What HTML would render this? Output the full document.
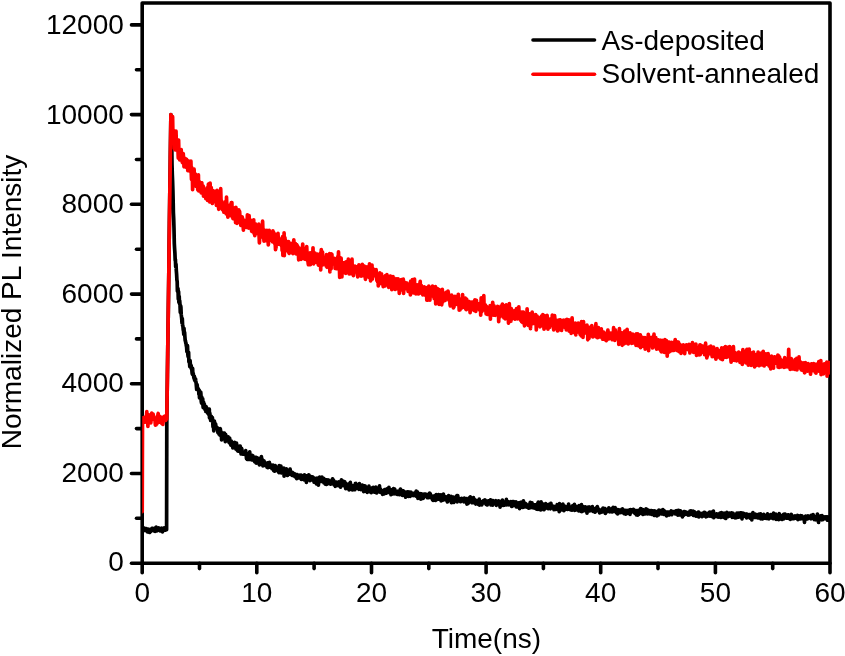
<!DOCTYPE html>
<html lang="en"><head><meta charset="utf-8"><title>Normalized PL Intensity vs Time</title>
<style>
html,body{margin:0;padding:0;background:#fff;}
body{width:845px;height:656px;overflow:hidden;}
svg{display:block;}
text{font-family:"Liberation Sans",Arial,Helvetica,sans-serif;font-size:28px;fill:#000;}
</style></head><body>
<svg width="845" height="656" viewBox="0 0 845 656">
<rect width="845" height="656" fill="#fff"/>
<defs><clipPath id="plot"><rect x="142.2" y="0" width="687.8" height="563.2"/></clipPath></defs>

<g stroke="#000" stroke-width="3.6" fill="none" stroke-linecap="round">
<rect x="142.2" y="3.0" width="687.8" height="560.2" stroke-linejoin="round"/>
<line x1="142.2" y1="563.2" x2="131.5" y2="563.2"/>
<line x1="142.2" y1="518.3" x2="136.5" y2="518.3"/>
<line x1="142.2" y1="473.5" x2="131.5" y2="473.5"/>
<line x1="142.2" y1="428.6" x2="136.5" y2="428.6"/>
<line x1="142.2" y1="383.8" x2="131.5" y2="383.8"/>
<line x1="142.2" y1="338.9" x2="136.5" y2="338.9"/>
<line x1="142.2" y1="294.1" x2="131.5" y2="294.1"/>
<line x1="142.2" y1="249.2" x2="136.5" y2="249.2"/>
<line x1="142.2" y1="204.3" x2="131.5" y2="204.3"/>
<line x1="142.2" y1="159.5" x2="136.5" y2="159.5"/>
<line x1="142.2" y1="114.6" x2="131.5" y2="114.6"/>
<line x1="142.2" y1="69.8" x2="136.5" y2="69.8"/>
<line x1="142.2" y1="24.9" x2="131.5" y2="24.9"/>
<line x1="142.2" y1="563.2" x2="142.2" y2="572.8"/>
<line x1="199.5" y1="563.2" x2="199.5" y2="568.6"/>
<line x1="256.8" y1="563.2" x2="256.8" y2="572.8"/>
<line x1="314.1" y1="563.2" x2="314.1" y2="568.6"/>
<line x1="371.5" y1="563.2" x2="371.5" y2="572.8"/>
<line x1="428.8" y1="563.2" x2="428.8" y2="568.6"/>
<line x1="486.1" y1="563.2" x2="486.1" y2="572.8"/>
<line x1="543.4" y1="563.2" x2="543.4" y2="568.6"/>
<line x1="600.7" y1="563.2" x2="600.7" y2="572.8"/>
<line x1="658.0" y1="563.2" x2="658.0" y2="568.6"/>
<line x1="715.4" y1="563.2" x2="715.4" y2="572.8"/>
<line x1="772.7" y1="563.2" x2="772.7" y2="568.6"/>
<line x1="830.0" y1="563.2" x2="830.0" y2="572.8"/>
</g>
<g fill="none" stroke-width="3.7" stroke-linejoin="round" stroke-linecap="round" clip-path="url(#plot)">
<path stroke="#000" d="M142.2 529.6 L142.5 529.2 L142.8 529.9 L143.1 530.6 L143.3 530.1 L143.6 530.7 L143.9 529.5 L144.2 528.0 L144.5 530.1 L144.8 530.3 L145.1 529.0 L145.4 529.1 L145.6 529.4 L145.9 530.6 L146.2 529.6 L146.5 528.7 L146.8 531.1 L147.1 530.1 L147.4 531.8 L147.6 531.1 L147.9 531.7 L148.2 529.8 L148.5 531.0 L148.8 529.2 L149.1 529.4 L149.4 529.8 L149.7 532.5 L149.9 530.2 L150.2 529.6 L150.5 529.4 L150.8 531.3 L151.1 530.1 L151.4 530.7 L151.7 530.5 L151.9 528.3 L152.2 530.5 L152.5 529.6 L152.8 528.5 L153.1 530.2 L153.4 529.7 L153.7 529.4 L153.9 529.5 L154.2 531.0 L154.5 529.5 L154.8 528.0 L155.1 531.4 L155.4 528.6 L155.7 529.4 L156.0 530.3 L156.2 527.2 L156.5 528.7 L156.8 531.0 L157.1 529.5 L157.4 528.9 L157.7 529.8 L158.0 528.8 L158.2 529.6 L158.5 528.8 L158.8 527.9 L159.1 530.3 L159.4 529.3 L159.7 530.1 L160.0 529.4 L160.3 530.9 L160.5 530.2 L160.8 529.8 L161.1 528.5 L161.4 528.2 L161.7 531.1 L162.0 530.5 L162.3 528.8 L162.5 531.9 L162.8 530.1 L163.1 529.7 L163.4 528.1 L163.7 528.8 L164.0 529.9 L164.3 530.0 L164.6 529.8 L164.8 527.8 L165.1 530.1 L165.4 529.9 L165.7 529.1 L166.0 529.7 L166.3 529.8 L166.6 529.6 L166.8 419.0 L167.1 397.2 L167.4 375.5 L167.7 353.8 L168.0 332.0 L168.3 310.3 L168.6 288.5 L168.9 266.8 L169.1 245.1 L169.4 223.3 L169.7 201.6 L170.0 179.8 L170.3 158.1 L170.6 136.4 L170.9 114.6 L171.1 126.7 L171.4 138.4 L171.7 140.6 L172.0 164.2 L172.3 174.2 L172.6 181.4 L172.9 190.5 L173.2 203.1 L173.4 212.8 L173.7 218.9 L174.0 228.8 L174.3 243.3 L174.6 248.6 L174.9 252.9 L175.2 260.4 L175.4 259.4 L175.7 266.9 L176.0 264.1 L176.3 270.3 L176.6 274.1 L176.9 279.9 L177.2 281.7 L177.4 291.3 L177.7 291.3 L178.0 288.6 L178.3 299.2 L178.6 291.6 L178.9 302.4 L179.2 296.4 L179.5 303.8 L179.7 300.7 L180.0 305.0 L180.3 312.5 L180.6 305.7 L180.9 307.2 L181.2 314.2 L181.5 316.9 L181.7 318.6 L182.0 323.2 L182.3 318.7 L182.6 325.7 L182.9 325.8 L183.2 329.7 L183.5 330.8 L183.8 334.4 L184.0 328.3 L184.3 334.2 L184.6 332.4 L184.9 336.9 L185.2 340.5 L185.5 341.0 L185.8 343.2 L186.0 343.1 L186.3 345.7 L186.6 347.0 L186.9 351.7 L187.2 351.5 L187.5 345.7 L187.8 354.0 L188.1 356.6 L188.3 354.0 L188.6 352.3 L188.9 362.0 L189.2 359.8 L189.5 362.3 L189.8 366.6 L190.1 360.5 L190.3 363.8 L190.6 364.6 L190.9 367.9 L191.2 365.6 L191.5 369.4 L191.8 369.4 L192.1 373.1 L192.4 374.4 L192.6 368.3 L192.9 374.5 L193.2 373.3 L193.5 375.2 L193.8 377.3 L194.1 378.5 L194.4 376.4 L194.6 379.9 L194.9 380.5 L195.2 381.0 L195.5 378.8 L195.8 381.1 L196.1 382.9 L196.4 386.4 L196.7 389.5 L196.9 384.3 L197.2 385.2 L197.5 389.0 L197.8 388.2 L198.1 388.5 L198.4 389.3 L198.7 389.9 L198.9 394.5 L199.2 390.0 L199.5 397.9 L199.8 392.9 L200.1 394.5 L200.4 394.1 L200.7 392.1 L200.9 393.7 L201.2 401.1 L201.5 403.1 L201.8 397.2 L202.1 402.5 L202.4 400.5 L202.7 398.9 L203.0 405.8 L203.2 407.6 L203.5 402.1 L203.8 403.2 L204.1 404.5 L204.4 404.3 L204.7 407.2 L205.0 409.4 L205.2 406.5 L205.5 409.1 L205.8 411.4 L206.1 406.5 L206.4 408.5 L206.7 407.9 L207.0 411.9 L207.3 411.6 L207.5 413.0 L207.8 413.3 L208.1 411.1 L208.4 414.1 L208.7 411.9 L209.0 412.5 L209.3 409.0 L209.5 418.0 L209.8 413.0 L210.1 416.0 L210.4 416.4 L210.7 420.5 L211.0 418.6 L211.3 416.3 L211.6 418.9 L211.8 419.1 L212.1 420.6 L212.4 417.7 L212.7 421.1 L213.0 426.8 L213.3 423.8 L213.6 427.4 L213.8 431.0 L214.1 425.1 L214.4 421.2 L214.7 424.8 L215.0 428.3 L215.3 428.3 L215.6 423.9 L215.9 426.8 L216.1 427.6 L216.4 428.4 L216.7 428.7 L217.0 427.4 L217.3 428.3 L217.6 429.4 L217.9 432.6 L218.1 429.3 L218.4 432.3 L218.7 428.5 L219.0 434.2 L219.3 431.9 L219.6 431.9 L219.9 435.2 L220.2 428.5 L220.4 429.4 L220.7 434.1 L221.0 431.5 L221.3 432.7 L221.6 439.9 L221.9 433.6 L222.2 434.6 L222.4 434.5 L222.7 437.5 L223.0 435.9 L223.3 436.0 L223.6 433.2 L223.9 435.4 L224.2 436.4 L224.4 433.2 L224.7 438.2 L225.0 438.1 L225.3 441.6 L225.6 434.3 L225.9 435.9 L226.2 436.3 L226.5 437.1 L226.7 438.6 L227.0 438.7 L227.3 440.0 L227.6 440.2 L227.9 439.8 L228.2 436.9 L228.5 439.3 L228.7 440.9 L229.0 442.3 L229.3 442.7 L229.6 438.0 L229.9 440.7 L230.2 442.0 L230.5 443.1 L230.8 445.1 L231.0 443.1 L231.3 441.2 L231.6 444.3 L231.9 444.1 L232.2 444.4 L232.5 443.9 L232.8 447.8 L233.0 445.1 L233.3 446.7 L233.6 443.1 L233.9 447.0 L234.2 444.3 L234.5 442.4 L234.8 446.7 L235.1 447.5 L235.3 446.1 L235.6 446.7 L235.9 449.1 L236.2 446.2 L236.5 443.0 L236.8 448.2 L237.1 448.3 L237.3 450.3 L237.6 447.6 L237.9 451.2 L238.2 451.2 L238.5 446.3 L238.8 451.2 L239.1 447.1 L239.4 446.4 L239.6 449.4 L239.9 449.0 L240.2 446.2 L240.5 451.0 L240.8 452.1 L241.1 453.9 L241.4 451.2 L241.6 448.3 L241.9 449.7 L242.2 453.9 L242.5 454.0 L242.8 453.4 L243.1 452.0 L243.4 453.2 L243.7 452.6 L243.9 452.6 L244.2 454.1 L244.5 453.8 L244.8 453.5 L245.1 454.3 L245.4 453.3 L245.7 450.6 L245.9 453.5 L246.2 454.8 L246.5 458.5 L246.8 454.3 L247.1 459.4 L247.4 458.4 L247.7 453.8 L247.9 454.2 L248.2 456.1 L248.5 459.5 L248.8 456.9 L249.1 457.6 L249.4 455.0 L249.7 451.8 L250.0 456.2 L250.2 458.4 L250.5 459.3 L250.8 457.2 L251.1 457.5 L251.4 459.7 L251.7 457.2 L252.0 460.0 L252.2 455.4 L252.5 455.7 L252.8 455.7 L253.1 459.1 L253.4 457.2 L253.7 458.6 L254.0 459.3 L254.3 459.3 L254.5 461.4 L254.8 461.9 L255.1 457.4 L255.4 459.6 L255.7 458.9 L256.0 457.4 L256.3 463.1 L256.5 461.3 L256.8 459.5 L257.1 459.1 L257.4 460.9 L257.7 458.1 L258.0 459.9 L258.3 462.9 L258.6 462.5 L258.8 459.1 L259.1 459.9 L259.4 464.9 L259.7 458.4 L260.0 460.0 L260.3 458.6 L260.6 462.3 L260.8 462.2 L261.1 464.0 L261.4 456.7 L261.7 462.4 L262.0 458.9 L262.3 463.6 L262.6 462.1 L262.9 465.9 L263.1 463.4 L263.4 460.8 L263.7 465.4 L264.0 460.9 L264.3 462.5 L264.6 465.4 L264.9 464.4 L265.1 464.5 L265.4 463.8 L265.7 464.9 L266.0 465.6 L266.3 464.6 L266.6 466.2 L266.9 466.9 L267.2 464.5 L267.4 462.8 L267.7 467.7 L268.0 464.8 L268.3 466.2 L268.6 467.0 L268.9 463.5 L269.2 466.3 L269.4 462.4 L269.7 467.1 L270.0 464.9 L270.3 466.2 L270.6 467.4 L270.9 464.9 L271.2 466.4 L271.4 465.1 L271.7 466.5 L272.0 468.7 L272.3 466.8 L272.6 466.6 L272.9 465.0 L273.2 468.8 L273.5 467.2 L273.7 470.6 L274.0 466.1 L274.3 469.6 L274.6 471.2 L274.9 467.8 L275.2 465.6 L275.5 470.9 L275.7 470.1 L276.0 469.6 L276.3 470.4 L276.6 467.6 L276.9 470.0 L277.2 469.9 L277.5 467.4 L277.8 470.2 L278.0 467.9 L278.3 470.8 L278.6 471.3 L278.9 472.6 L279.2 465.5 L279.5 469.9 L279.8 468.9 L280.0 469.5 L280.3 469.2 L280.6 469.5 L280.9 466.0 L281.2 471.8 L281.5 472.9 L281.8 472.0 L282.1 472.7 L282.3 468.8 L282.6 468.7 L282.9 472.3 L283.2 473.2 L283.5 471.3 L283.8 468.0 L284.1 476.2 L284.3 469.8 L284.6 473.0 L284.9 469.0 L285.2 473.2 L285.5 471.8 L285.8 474.2 L286.1 473.3 L286.4 468.8 L286.6 470.0 L286.9 472.5 L287.2 473.5 L287.5 475.5 L287.8 472.7 L288.1 472.1 L288.4 472.3 L288.6 472.4 L288.9 474.5 L289.2 472.6 L289.5 472.6 L289.8 470.2 L290.1 469.1 L290.4 473.1 L290.7 474.4 L290.9 473.1 L291.2 474.2 L291.5 474.6 L291.8 473.4 L292.1 475.3 L292.4 472.3 L292.7 473.7 L292.9 473.2 L293.2 474.1 L293.5 475.2 L293.8 475.7 L294.1 474.4 L294.4 475.1 L294.7 473.7 L294.9 474.3 L295.2 476.9 L295.5 474.3 L295.8 477.1 L296.1 475.8 L296.4 475.3 L296.7 478.7 L297.0 474.7 L297.2 474.7 L297.5 475.4 L297.8 476.0 L298.1 476.0 L298.4 477.2 L298.7 475.9 L299.0 476.6 L299.2 475.4 L299.5 478.0 L299.8 475.3 L300.1 475.6 L300.4 476.2 L300.7 476.9 L301.0 475.1 L301.3 479.4 L301.5 475.5 L301.8 475.9 L302.1 476.0 L302.4 475.9 L302.7 477.9 L303.0 477.2 L303.3 475.7 L303.5 476.1 L303.8 476.6 L304.1 479.9 L304.4 476.1 L304.7 475.0 L305.0 475.4 L305.3 476.9 L305.6 480.3 L305.8 475.7 L306.1 477.8 L306.4 482.3 L306.7 476.9 L307.0 480.4 L307.3 480.1 L307.6 479.0 L307.8 475.5 L308.1 478.6 L308.4 477.5 L308.7 474.8 L309.0 475.1 L309.3 478.3 L309.6 478.6 L309.9 480.6 L310.1 479.6 L310.4 477.6 L310.7 477.7 L311.0 478.3 L311.3 476.7 L311.6 480.0 L311.9 478.8 L312.1 477.4 L312.4 477.7 L312.7 476.9 L313.0 478.2 L313.3 479.5 L313.6 478.4 L313.9 480.9 L314.1 482.2 L314.4 478.1 L314.7 479.4 L315.0 478.8 L315.3 482.5 L315.6 480.1 L315.9 480.6 L316.2 481.1 L316.4 483.8 L316.7 480.3 L317.0 478.1 L317.3 479.1 L317.6 480.9 L317.9 479.9 L318.2 478.6 L318.4 485.1 L318.7 480.3 L319.0 479.1 L319.3 478.9 L319.6 477.1 L319.9 478.2 L320.2 479.8 L320.5 479.9 L320.7 479.0 L321.0 481.5 L321.3 480.7 L321.6 479.0 L321.9 477.1 L322.2 481.1 L322.5 480.9 L322.7 480.5 L323.0 478.5 L323.3 481.1 L323.6 478.4 L323.9 482.9 L324.2 481.5 L324.5 481.6 L324.8 479.9 L325.0 479.4 L325.3 484.1 L325.6 483.1 L325.9 480.9 L326.2 482.8 L326.5 484.4 L326.8 479.8 L327.0 480.8 L327.3 480.9 L327.6 482.7 L327.9 480.0 L328.2 482.4 L328.5 480.0 L328.8 483.7 L329.1 483.7 L329.3 481.8 L329.6 483.5 L329.9 481.1 L330.2 481.9 L330.5 484.1 L330.8 482.3 L331.1 483.2 L331.3 480.9 L331.6 483.8 L331.9 483.5 L332.2 480.6 L332.5 478.8 L332.8 479.3 L333.1 482.8 L333.4 482.6 L333.6 480.3 L333.9 483.3 L334.2 484.9 L334.5 483.0 L334.8 482.4 L335.1 484.8 L335.4 486.3 L335.6 486.0 L335.9 482.2 L336.2 484.8 L336.5 483.8 L336.8 483.2 L337.1 482.5 L337.4 484.3 L337.6 482.8 L337.9 485.4 L338.2 484.5 L338.5 485.7 L338.8 481.9 L339.1 484.0 L339.4 485.4 L339.7 484.7 L339.9 484.5 L340.2 482.9 L340.5 487.1 L340.8 486.1 L341.1 485.0 L341.4 479.9 L341.7 482.7 L341.9 484.7 L342.2 483.3 L342.5 480.9 L342.8 485.0 L343.1 485.3 L343.4 482.6 L343.7 483.9 L344.0 483.6 L344.2 485.8 L344.5 481.5 L344.8 481.9 L345.1 484.0 L345.4 483.9 L345.7 488.7 L346.0 484.0 L346.2 485.6 L346.5 484.5 L346.8 484.1 L347.1 486.0 L347.4 488.4 L347.7 484.8 L348.0 486.8 L348.3 486.2 L348.5 486.7 L348.8 486.3 L349.1 489.8 L349.4 483.6 L349.7 485.4 L350.0 483.9 L350.3 482.4 L350.5 485.9 L350.8 489.2 L351.1 487.6 L351.4 488.2 L351.7 487.0 L352.0 486.1 L352.3 489.8 L352.6 485.7 L352.8 489.0 L353.1 485.9 L353.4 486.6 L353.7 487.0 L354.0 486.7 L354.3 487.5 L354.6 487.7 L354.8 489.7 L355.1 486.8 L355.4 483.5 L355.7 483.4 L356.0 484.6 L356.3 485.7 L356.6 488.2 L356.9 484.5 L357.1 487.2 L357.4 487.2 L357.7 487.7 L358.0 487.1 L358.3 488.0 L358.6 487.5 L358.9 489.3 L359.1 488.1 L359.4 483.5 L359.7 487.6 L360.0 488.0 L360.3 486.7 L360.6 486.4 L360.9 489.6 L361.1 488.1 L361.4 486.2 L361.7 487.4 L362.0 487.7 L362.3 485.2 L362.6 489.2 L362.9 487.9 L363.2 489.0 L363.4 485.5 L363.7 491.6 L364.0 489.4 L364.3 489.2 L364.6 487.2 L364.9 487.3 L365.2 486.0 L365.4 491.2 L365.7 487.2 L366.0 489.1 L366.3 489.7 L366.6 487.7 L366.9 490.3 L367.2 492.3 L367.5 489.4 L367.7 491.4 L368.0 489.9 L368.3 488.2 L368.6 488.3 L368.9 486.2 L369.2 489.3 L369.5 491.7 L369.7 490.3 L370.0 490.7 L370.3 491.2 L370.6 488.4 L370.9 490.3 L371.2 492.6 L371.5 488.1 L371.8 489.5 L372.0 488.7 L372.3 489.2 L372.6 488.3 L372.9 489.4 L373.2 487.4 L373.5 488.8 L373.8 488.9 L374.0 488.9 L374.3 492.2 L374.6 490.0 L374.9 490.2 L375.2 489.4 L375.5 492.1 L375.8 487.0 L376.1 489.7 L376.3 492.0 L376.6 492.9 L376.9 490.5 L377.2 490.2 L377.5 491.3 L377.8 489.9 L378.1 491.2 L378.3 489.2 L378.6 491.4 L378.9 490.3 L379.2 488.6 L379.5 485.9 L379.8 492.1 L380.1 491.2 L380.4 491.9 L380.6 489.1 L380.9 492.5 L381.2 491.4 L381.5 490.6 L381.8 492.3 L382.1 492.3 L382.4 491.5 L382.6 494.3 L382.9 493.2 L383.2 491.5 L383.5 490.6 L383.8 491.2 L384.1 493.9 L384.4 491.7 L384.6 489.6 L384.9 490.1 L385.2 491.2 L385.5 492.6 L385.8 490.0 L386.1 492.1 L386.4 493.2 L386.7 492.6 L386.9 488.8 L387.2 490.9 L387.5 489.4 L387.8 492.2 L388.1 489.8 L388.4 492.5 L388.7 491.7 L388.9 487.3 L389.2 490.2 L389.5 492.4 L389.8 491.8 L390.1 491.1 L390.4 489.6 L390.7 492.6 L391.0 494.7 L391.2 492.3 L391.5 491.8 L391.8 491.7 L392.1 489.7 L392.4 491.4 L392.7 490.6 L393.0 493.9 L393.2 490.6 L393.5 488.5 L393.8 490.8 L394.1 491.7 L394.4 491.9 L394.7 489.2 L395.0 493.8 L395.3 492.5 L395.5 491.6 L395.8 491.1 L396.1 493.2 L396.4 491.9 L396.7 493.0 L397.0 492.3 L397.3 492.8 L397.5 494.5 L397.8 492.7 L398.1 491.2 L398.4 494.3 L398.7 493.1 L399.0 491.6 L399.3 494.6 L399.6 492.5 L399.8 494.7 L400.1 491.0 L400.4 489.0 L400.7 489.6 L401.0 493.4 L401.3 491.8 L401.6 492.9 L401.8 493.0 L402.1 490.6 L402.4 495.4 L402.7 491.5 L403.0 493.3 L403.3 490.9 L403.6 493.0 L403.9 494.5 L404.1 492.9 L404.4 492.2 L404.7 493.4 L405.0 492.7 L405.3 494.4 L405.6 497.2 L405.9 492.1 L406.1 492.5 L406.4 493.4 L406.7 493.6 L407.0 492.0 L407.3 494.6 L407.6 495.0 L407.9 494.2 L408.1 491.9 L408.4 496.3 L408.7 492.0 L409.0 495.1 L409.3 495.9 L409.6 492.0 L409.9 494.3 L410.2 496.3 L410.4 494.8 L410.7 492.7 L411.0 492.3 L411.3 495.0 L411.6 493.6 L411.9 493.2 L412.2 495.5 L412.4 493.8 L412.7 494.5 L413.0 495.4 L413.3 495.4 L413.6 494.5 L413.9 494.6 L414.2 495.6 L414.5 495.4 L414.7 492.9 L415.0 494.4 L415.3 493.3 L415.6 492.8 L415.9 493.9 L416.2 491.1 L416.5 496.3 L416.7 493.6 L417.0 495.5 L417.3 491.9 L417.6 492.2 L417.9 498.3 L418.2 496.7 L418.5 494.0 L418.8 493.9 L419.0 494.0 L419.3 495.4 L419.6 494.5 L419.9 494.2 L420.2 495.5 L420.5 493.7 L420.8 499.2 L421.0 494.4 L421.3 497.2 L421.6 493.9 L421.9 495.9 L422.2 497.0 L422.5 495.0 L422.8 497.1 L423.1 497.2 L423.3 498.3 L423.6 495.8 L423.9 494.9 L424.2 494.1 L424.5 496.1 L424.8 494.1 L425.1 495.9 L425.3 496.1 L425.6 495.0 L425.9 494.3 L426.2 496.6 L426.5 496.5 L426.8 496.4 L427.1 496.0 L427.4 497.6 L427.6 494.5 L427.9 496.9 L428.2 495.5 L428.5 497.6 L428.8 495.7 L429.1 495.7 L429.4 497.1 L429.6 493.1 L429.9 495.8 L430.2 493.6 L430.5 494.9 L430.8 497.6 L431.1 497.2 L431.4 495.9 L431.6 496.5 L431.9 496.6 L432.2 497.2 L432.5 499.7 L432.8 497.1 L433.1 500.4 L433.4 496.2 L433.7 498.1 L433.9 498.1 L434.2 497.3 L434.5 496.5 L434.8 499.3 L435.1 499.9 L435.4 498.8 L435.7 500.4 L435.9 498.7 L436.2 494.6 L436.5 498.9 L436.8 496.2 L437.1 499.5 L437.4 496.8 L437.7 497.8 L438.0 497.4 L438.2 496.4 L438.5 494.5 L438.8 497.1 L439.1 497.3 L439.4 499.1 L439.7 496.6 L440.0 498.0 L440.2 496.2 L440.5 497.7 L440.8 494.8 L441.1 500.9 L441.4 498.2 L441.7 496.3 L442.0 498.4 L442.3 499.1 L442.5 498.3 L442.8 500.1 L443.1 497.7 L443.4 494.0 L443.7 496.1 L444.0 499.8 L444.3 499.5 L444.5 498.7 L444.8 496.5 L445.1 499.5 L445.4 499.3 L445.7 496.8 L446.0 496.8 L446.3 498.9 L446.6 500.1 L446.8 500.8 L447.1 499.5 L447.4 502.0 L447.7 497.2 L448.0 499.5 L448.3 497.7 L448.6 495.5 L448.8 496.6 L449.1 500.4 L449.4 497.2 L449.7 496.8 L450.0 499.9 L450.3 500.2 L450.6 498.9 L450.9 501.3 L451.1 496.4 L451.4 502.7 L451.7 500.6 L452.0 499.3 L452.3 499.3 L452.6 498.7 L452.9 498.5 L453.1 499.4 L453.4 497.2 L453.7 502.5 L454.0 499.1 L454.3 500.3 L454.6 499.0 L454.9 498.8 L455.1 500.7 L455.4 500.3 L455.7 498.0 L456.0 498.8 L456.3 500.4 L456.6 496.1 L456.9 495.7 L457.2 501.8 L457.4 499.0 L457.7 495.5 L458.0 498.3 L458.3 499.2 L458.6 499.9 L458.9 500.5 L459.2 500.0 L459.4 500.6 L459.7 498.5 L460.0 500.4 L460.3 500.5 L460.6 501.7 L460.9 499.9 L461.2 501.3 L461.5 500.2 L461.7 498.3 L462.0 499.4 L462.3 499.2 L462.6 499.5 L462.9 500.0 L463.2 500.3 L463.5 500.6 L463.7 498.9 L464.0 501.9 L464.3 498.1 L464.6 500.2 L464.9 501.5 L465.2 501.1 L465.5 501.4 L465.8 500.1 L466.0 501.5 L466.3 498.6 L466.6 501.7 L466.9 504.1 L467.2 501.7 L467.5 503.7 L467.8 500.6 L468.0 498.9 L468.3 499.6 L468.6 502.8 L468.9 501.9 L469.2 497.9 L469.5 500.2 L469.8 500.8 L470.1 499.1 L470.3 496.9 L470.6 498.8 L470.9 500.7 L471.2 500.4 L471.5 500.0 L471.8 502.0 L472.1 502.7 L472.3 501.0 L472.6 502.6 L472.9 501.2 L473.2 501.0 L473.5 497.5 L473.8 502.6 L474.1 501.4 L474.4 501.5 L474.6 500.6 L474.9 499.7 L475.2 502.1 L475.5 502.7 L475.8 504.0 L476.1 502.9 L476.4 500.6 L476.6 501.4 L476.9 503.1 L477.2 502.1 L477.5 501.5 L477.8 500.7 L478.1 502.5 L478.4 502.0 L478.6 504.5 L478.9 503.4 L479.2 499.1 L479.5 505.1 L479.8 502.2 L480.1 501.4 L480.4 502.3 L480.7 503.0 L480.9 501.9 L481.2 501.8 L481.5 502.0 L481.8 504.8 L482.1 502.1 L482.4 503.2 L482.7 502.8 L482.9 501.6 L483.2 500.9 L483.5 500.6 L483.8 502.8 L484.1 500.6 L484.4 500.2 L484.7 500.3 L485.0 499.9 L485.2 502.3 L485.5 502.4 L485.8 500.9 L486.1 504.3 L486.4 501.9 L486.7 503.0 L487.0 502.8 L487.2 505.0 L487.5 503.7 L487.8 502.3 L488.1 500.9 L488.4 500.8 L488.7 502.5 L489.0 502.7 L489.3 503.7 L489.5 501.8 L489.8 502.8 L490.1 501.5 L490.4 499.8 L490.7 502.6 L491.0 504.9 L491.3 503.9 L491.5 504.9 L491.8 504.5 L492.1 500.6 L492.4 502.3 L492.7 505.1 L493.0 501.7 L493.3 500.7 L493.6 503.3 L493.8 503.8 L494.1 503.3 L494.4 502.4 L494.7 501.8 L495.0 501.0 L495.3 501.0 L495.6 501.0 L495.8 500.8 L496.1 501.9 L496.4 505.3 L496.7 503.2 L497.0 502.5 L497.3 503.6 L497.6 501.6 L497.8 503.6 L498.1 504.5 L498.4 500.8 L498.7 502.1 L499.0 502.8 L499.3 501.7 L499.6 501.5 L499.9 502.7 L500.1 507.1 L500.4 504.3 L500.7 504.0 L501.0 504.8 L501.3 503.0 L501.6 501.5 L501.9 504.1 L502.1 505.1 L502.4 500.2 L502.7 504.1 L503.0 505.4 L503.3 503.1 L503.6 502.8 L503.9 504.6 L504.2 502.3 L504.4 504.3 L504.7 505.0 L505.0 503.3 L505.3 502.4 L505.6 504.6 L505.9 503.1 L506.2 503.8 L506.4 499.3 L506.7 504.8 L507.0 501.6 L507.3 503.8 L507.6 504.0 L507.9 502.7 L508.2 502.4 L508.5 501.9 L508.7 503.4 L509.0 504.8 L509.3 504.7 L509.6 503.1 L509.9 503.1 L510.2 501.8 L510.5 503.3 L510.7 502.4 L511.0 501.7 L511.3 503.8 L511.6 506.4 L511.9 505.9 L512.2 506.3 L512.5 501.7 L512.8 505.5 L513.0 502.3 L513.3 503.3 L513.6 501.6 L513.9 502.7 L514.2 504.4 L514.5 504.6 L514.8 504.2 L515.0 504.1 L515.3 505.2 L515.6 504.4 L515.9 501.9 L516.2 507.0 L516.5 504.0 L516.8 505.9 L517.1 504.2 L517.3 503.2 L517.6 504.6 L517.9 503.3 L518.2 507.0 L518.5 502.9 L518.8 505.5 L519.1 503.7 L519.3 504.4 L519.6 508.6 L519.9 505.9 L520.2 504.4 L520.5 502.3 L520.8 504.3 L521.1 504.4 L521.3 507.0 L521.6 502.6 L521.9 502.1 L522.2 504.8 L522.5 505.2 L522.8 507.4 L523.1 503.6 L523.4 500.8 L523.6 503.9 L523.9 503.0 L524.2 504.2 L524.5 506.5 L524.8 503.0 L525.1 507.0 L525.4 505.4 L525.6 504.7 L525.9 503.8 L526.2 504.5 L526.5 504.6 L526.8 506.4 L527.1 507.2 L527.4 505.1 L527.7 506.3 L527.9 507.3 L528.2 507.2 L528.5 506.1 L528.8 508.2 L529.1 507.4 L529.4 507.9 L529.7 505.1 L529.9 504.8 L530.2 502.4 L530.5 507.7 L530.8 506.5 L531.1 504.1 L531.4 505.8 L531.7 506.0 L532.0 502.9 L532.2 506.1 L532.5 507.4 L532.8 507.6 L533.1 505.1 L533.4 505.2 L533.7 507.8 L534.0 507.2 L534.2 504.9 L534.5 504.9 L534.8 506.7 L535.1 504.8 L535.4 504.9 L535.7 508.5 L536.0 506.3 L536.3 505.2 L536.5 506.7 L536.8 509.2 L537.1 506.3 L537.4 504.8 L537.7 503.5 L538.0 509.3 L538.3 502.0 L538.5 507.7 L538.8 504.6 L539.1 504.2 L539.4 504.6 L539.7 505.9 L540.0 507.9 L540.3 505.2 L540.6 507.2 L540.8 510.0 L541.1 501.9 L541.4 505.1 L541.7 503.5 L542.0 507.6 L542.3 504.0 L542.6 503.9 L542.8 504.0 L543.1 506.4 L543.4 508.2 L543.7 506.6 L544.0 509.7 L544.3 509.0 L544.6 506.3 L544.8 508.0 L545.1 506.7 L545.4 506.7 L545.7 503.6 L546.0 504.6 L546.3 506.6 L546.6 504.7 L546.9 507.8 L547.1 507.1 L547.4 505.2 L547.7 508.5 L548.0 507.1 L548.3 508.7 L548.6 506.5 L548.9 504.3 L549.1 507.9 L549.4 506.4 L549.7 508.1 L550.0 508.5 L550.3 508.7 L550.6 504.6 L550.9 503.3 L551.2 506.1 L551.4 508.0 L551.7 505.9 L552.0 507.4 L552.3 505.7 L552.6 506.5 L552.9 506.6 L553.2 506.1 L553.4 507.9 L553.7 507.7 L554.0 509.7 L554.3 507.8 L554.6 509.3 L554.9 507.4 L555.2 508.6 L555.5 507.0 L555.7 506.5 L556.0 509.3 L556.3 508.5 L556.6 508.7 L556.9 506.1 L557.2 504.7 L557.5 506.0 L557.7 507.9 L558.0 505.1 L558.3 509.6 L558.6 505.1 L558.9 508.4 L559.2 511.6 L559.5 503.5 L559.8 505.1 L560.0 509.0 L560.3 507.2 L560.6 507.8 L560.9 507.4 L561.2 509.8 L561.5 508.6 L561.8 506.9 L562.0 507.3 L562.3 505.8 L562.6 507.5 L562.9 504.2 L563.2 508.8 L563.5 507.3 L563.8 510.6 L564.1 509.6 L564.3 505.8 L564.6 509.2 L564.9 507.0 L565.2 507.9 L565.5 509.4 L565.8 508.4 L566.1 508.7 L566.3 508.6 L566.6 506.8 L566.9 507.0 L567.2 508.8 L567.5 509.3 L567.8 507.6 L568.1 508.2 L568.3 506.5 L568.6 504.1 L568.9 506.8 L569.2 508.1 L569.5 508.4 L569.8 509.4 L570.1 509.5 L570.4 509.7 L570.6 508.8 L570.9 508.8 L571.2 507.1 L571.5 508.8 L571.8 508.6 L572.1 510.1 L572.4 505.9 L572.6 507.6 L572.9 505.7 L573.2 507.2 L573.5 506.2 L573.8 508.8 L574.1 507.4 L574.4 504.4 L574.7 510.3 L574.9 506.7 L575.2 506.0 L575.5 507.9 L575.8 507.4 L576.1 506.6 L576.4 509.6 L576.7 508.0 L576.9 509.9 L577.2 509.7 L577.5 509.6 L577.8 508.9 L578.1 508.5 L578.4 508.0 L578.7 510.9 L579.0 505.7 L579.2 507.0 L579.5 507.7 L579.8 509.3 L580.1 509.0 L580.4 508.0 L580.7 508.2 L581.0 511.4 L581.2 507.8 L581.5 504.5 L581.8 511.7 L582.1 507.4 L582.4 508.4 L582.7 509.2 L583.0 506.9 L583.3 510.8 L583.5 508.8 L583.8 506.8 L584.1 509.4 L584.4 509.7 L584.7 508.9 L585.0 509.8 L585.3 506.8 L585.5 510.6 L585.8 507.9 L586.1 511.1 L586.4 508.2 L586.7 509.4 L587.0 513.2 L587.3 509.3 L587.6 510.9 L587.8 510.0 L588.1 507.0 L588.4 511.1 L588.7 511.0 L589.0 507.2 L589.3 509.2 L589.6 507.1 L589.8 509.0 L590.1 510.8 L590.4 509.6 L590.7 507.6 L591.0 508.1 L591.3 509.5 L591.6 509.4 L591.8 509.7 L592.1 510.4 L592.4 506.6 L592.7 509.6 L593.0 511.3 L593.3 510.3 L593.6 508.5 L593.9 508.7 L594.1 509.9 L594.4 510.7 L594.7 509.6 L595.0 512.2 L595.3 511.7 L595.6 508.5 L595.9 510.5 L596.1 509.2 L596.4 507.9 L596.7 508.8 L597.0 509.7 L597.3 506.6 L597.6 508.8 L597.9 510.4 L598.2 508.7 L598.4 509.2 L598.7 511.2 L599.0 509.8 L599.3 510.1 L599.6 512.9 L599.9 510.2 L600.2 510.4 L600.4 510.6 L600.7 512.4 L601.0 510.5 L601.3 510.0 L601.6 509.8 L601.9 511.7 L602.2 509.1 L602.5 511.9 L602.7 510.4 L603.0 508.1 L603.3 511.1 L603.6 510.9 L603.9 508.5 L604.2 510.7 L604.5 510.6 L604.7 509.8 L605.0 508.6 L605.3 513.5 L605.6 511.4 L605.9 511.7 L606.2 511.8 L606.5 511.5 L606.8 511.5 L607.0 509.8 L607.3 511.6 L607.6 510.1 L607.9 509.7 L608.2 511.4 L608.5 510.1 L608.8 507.9 L609.0 509.9 L609.3 511.3 L609.6 510.5 L609.9 511.8 L610.2 510.0 L610.5 509.1 L610.8 511.6 L611.1 510.7 L611.3 508.8 L611.6 511.2 L611.9 510.2 L612.2 512.0 L612.5 511.7 L612.8 511.3 L613.1 507.4 L613.3 511.1 L613.6 511.3 L613.9 511.4 L614.2 510.8 L614.5 509.6 L614.8 510.3 L615.1 507.6 L615.3 510.3 L615.6 508.5 L615.9 510.3 L616.2 509.8 L616.5 512.8 L616.8 510.9 L617.1 510.8 L617.4 511.1 L617.6 513.9 L617.9 509.5 L618.2 511.3 L618.5 511.4 L618.8 511.2 L619.1 511.1 L619.4 510.2 L619.6 512.7 L619.9 512.2 L620.2 510.4 L620.5 510.7 L620.8 511.4 L621.1 511.7 L621.4 512.1 L621.7 511.0 L621.9 509.2 L622.2 512.5 L622.5 508.8 L622.8 509.8 L623.1 511.7 L623.4 509.9 L623.7 513.1 L623.9 513.5 L624.2 512.9 L624.5 511.7 L624.8 511.5 L625.1 511.8 L625.4 511.0 L625.7 514.2 L626.0 510.4 L626.2 513.2 L626.5 512.1 L626.8 511.8 L627.1 512.9 L627.4 513.2 L627.7 512.7 L628.0 511.2 L628.2 510.4 L628.5 510.4 L628.8 512.7 L629.1 512.4 L629.4 512.6 L629.7 510.6 L630.0 514.3 L630.3 509.5 L630.5 512.0 L630.8 512.5 L631.1 510.9 L631.4 509.9 L631.7 510.9 L632.0 509.9 L632.3 511.2 L632.5 509.6 L632.8 509.6 L633.1 511.6 L633.4 509.4 L633.7 511.2 L634.0 511.4 L634.3 512.8 L634.6 511.9 L634.8 510.4 L635.1 513.4 L635.4 510.6 L635.7 511.1 L636.0 511.2 L636.3 514.8 L636.6 511.8 L636.8 510.7 L637.1 512.7 L637.4 511.5 L637.7 515.1 L638.0 510.7 L638.3 512.6 L638.6 510.4 L638.8 514.4 L639.1 510.7 L639.4 512.1 L639.7 510.6 L640.0 513.1 L640.3 512.7 L640.6 508.6 L640.9 513.0 L641.1 512.8 L641.4 512.2 L641.7 513.3 L642.0 510.1 L642.3 509.4 L642.6 512.9 L642.9 514.4 L643.1 510.2 L643.4 510.3 L643.7 510.7 L644.0 510.3 L644.3 513.2 L644.6 512.2 L644.9 514.0 L645.2 514.0 L645.4 510.6 L645.7 513.0 L646.0 508.8 L646.3 511.9 L646.6 513.0 L646.9 510.9 L647.2 509.5 L647.4 511.4 L647.7 513.9 L648.0 511.6 L648.3 510.2 L648.6 512.9 L648.9 513.3 L649.2 510.7 L649.5 512.0 L649.7 513.8 L650.0 512.8 L650.3 513.3 L650.6 511.8 L650.9 512.1 L651.2 510.6 L651.5 511.3 L651.7 514.5 L652.0 511.7 L652.3 511.0 L652.6 511.7 L652.9 510.9 L653.2 513.1 L653.5 513.7 L653.8 511.0 L654.0 513.9 L654.3 515.5 L654.6 510.9 L654.9 513.5 L655.2 512.9 L655.5 514.4 L655.8 514.4 L656.0 514.1 L656.3 513.0 L656.6 512.0 L656.9 515.8 L657.2 511.4 L657.5 514.2 L657.8 514.1 L658.0 511.6 L658.3 512.7 L658.6 514.8 L658.9 510.0 L659.2 513.8 L659.5 512.3 L659.8 512.3 L660.1 510.6 L660.3 513.3 L660.6 511.2 L660.9 513.7 L661.2 511.1 L661.5 513.8 L661.8 513.2 L662.1 510.0 L662.3 512.3 L662.6 512.6 L662.9 509.6 L663.2 512.3 L663.5 514.0 L663.8 511.8 L664.1 514.5 L664.4 511.2 L664.6 511.1 L664.9 513.7 L665.2 513.8 L665.5 512.6 L665.8 512.9 L666.1 514.3 L666.4 512.1 L666.6 515.8 L666.9 513.6 L667.2 513.5 L667.5 513.3 L667.8 512.5 L668.1 514.7 L668.4 512.2 L668.7 513.3 L668.9 513.9 L669.2 515.0 L669.5 514.7 L669.8 512.5 L670.1 514.4 L670.4 513.0 L670.7 511.6 L670.9 511.6 L671.2 510.9 L671.5 513.6 L671.8 514.7 L672.1 511.7 L672.4 512.7 L672.7 511.6 L673.0 513.2 L673.2 511.5 L673.5 512.0 L673.8 512.2 L674.1 512.5 L674.4 512.7 L674.7 512.9 L675.0 513.0 L675.2 511.9 L675.5 514.0 L675.8 510.8 L676.1 513.5 L676.4 511.9 L676.7 513.5 L677.0 513.7 L677.3 510.5 L677.5 513.8 L677.8 515.2 L678.1 514.4 L678.4 513.9 L678.7 510.4 L679.0 513.2 L679.3 512.1 L679.5 514.9 L679.8 513.0 L680.1 512.5 L680.4 510.9 L680.7 514.5 L681.0 512.7 L681.3 513.1 L681.5 515.0 L681.8 513.6 L682.1 514.0 L682.4 516.9 L682.7 512.8 L683.0 512.8 L683.3 514.2 L683.6 515.5 L683.8 511.6 L684.1 513.3 L684.4 512.2 L684.7 511.7 L685.0 514.4 L685.3 512.6 L685.6 514.1 L685.8 513.8 L686.1 513.9 L686.4 513.8 L686.7 512.2 L687.0 513.6 L687.3 514.0 L687.6 514.2 L687.9 513.3 L688.1 515.1 L688.4 514.6 L688.7 513.9 L689.0 514.7 L689.3 514.0 L689.6 514.8 L689.9 511.1 L690.1 512.0 L690.4 513.3 L690.7 514.0 L691.0 510.9 L691.3 513.5 L691.6 514.1 L691.9 513.6 L692.2 513.6 L692.4 512.0 L692.7 514.0 L693.0 511.1 L693.3 515.3 L693.6 513.1 L693.9 515.5 L694.2 511.5 L694.4 514.6 L694.7 514.2 L695.0 512.8 L695.3 512.4 L695.6 515.7 L695.9 514.6 L696.2 516.1 L696.5 514.0 L696.7 514.3 L697.0 514.7 L697.3 515.2 L697.6 514.8 L697.9 515.3 L698.2 513.5 L698.5 512.1 L698.7 517.0 L699.0 514.4 L699.3 514.9 L699.6 513.6 L699.9 515.7 L700.2 514.5 L700.5 515.8 L700.8 513.4 L701.0 514.2 L701.3 514.6 L701.6 513.9 L701.9 514.7 L702.2 516.6 L702.5 513.6 L702.8 514.0 L703.0 514.7 L703.3 513.1 L703.6 512.8 L703.9 516.0 L704.2 515.6 L704.5 512.3 L704.8 512.5 L705.0 515.6 L705.3 516.2 L705.6 515.4 L705.9 515.2 L706.2 516.8 L706.5 514.5 L706.8 516.4 L707.1 516.3 L707.3 513.3 L707.6 515.6 L707.9 514.7 L708.2 513.7 L708.5 513.5 L708.8 515.1 L709.1 514.6 L709.3 515.8 L709.6 512.2 L709.9 513.8 L710.2 516.2 L710.5 514.7 L710.8 513.7 L711.1 514.0 L711.4 512.2 L711.6 512.8 L711.9 515.5 L712.2 514.9 L712.5 516.6 L712.8 514.4 L713.1 514.6 L713.4 511.0 L713.6 514.7 L713.9 517.7 L714.2 515.8 L714.5 514.7 L714.8 516.6 L715.1 516.1 L715.4 515.4 L715.7 514.4 L715.9 515.1 L716.2 516.1 L716.5 513.8 L716.8 515.7 L717.1 515.6 L717.4 516.9 L717.7 516.0 L717.9 514.0 L718.2 517.2 L718.5 515.1 L718.8 514.0 L719.1 515.5 L719.4 514.7 L719.7 516.6 L720.0 513.2 L720.2 513.5 L720.5 514.7 L720.8 517.5 L721.1 516.5 L721.4 513.7 L721.7 512.7 L722.0 514.7 L722.2 513.3 L722.5 515.9 L722.8 515.4 L723.1 515.1 L723.4 514.5 L723.7 517.3 L724.0 513.8 L724.3 513.3 L724.5 516.8 L724.8 517.1 L725.1 514.7 L725.4 516.1 L725.7 518.5 L726.0 514.1 L726.3 515.0 L726.5 515.9 L726.8 512.3 L727.1 515.0 L727.4 516.3 L727.7 515.1 L728.0 516.7 L728.3 516.3 L728.5 514.7 L728.8 516.1 L729.1 515.9 L729.4 513.0 L729.7 514.1 L730.0 514.2 L730.3 514.6 L730.6 514.7 L730.8 513.3 L731.1 515.4 L731.4 512.8 L731.7 516.7 L732.0 515.7 L732.3 517.3 L732.6 515.9 L732.8 514.7 L733.1 513.4 L733.4 516.4 L733.7 515.4 L734.0 516.0 L734.3 516.5 L734.6 517.1 L734.9 515.4 L735.1 517.9 L735.4 515.4 L735.7 515.5 L736.0 516.4 L736.3 516.9 L736.6 517.5 L736.9 513.0 L737.1 517.4 L737.4 513.4 L737.7 514.7 L738.0 516.1 L738.3 517.2 L738.6 514.2 L738.9 513.2 L739.2 516.9 L739.4 516.0 L739.7 514.2 L740.0 515.2 L740.3 512.9 L740.6 516.5 L740.9 514.9 L741.2 517.4 L741.4 512.8 L741.7 516.7 L742.0 518.8 L742.3 515.9 L742.6 515.9 L742.9 513.1 L743.2 516.2 L743.5 515.8 L743.7 514.9 L744.0 513.6 L744.3 515.9 L744.6 514.4 L744.9 515.1 L745.2 516.2 L745.5 515.7 L745.7 515.8 L746.0 517.1 L746.3 514.2 L746.6 517.8 L746.9 514.2 L747.2 514.6 L747.5 516.0 L747.8 517.0 L748.0 516.2 L748.3 515.3 L748.6 514.9 L748.9 515.5 L749.2 514.6 L749.5 516.7 L749.8 515.6 L750.0 518.1 L750.3 514.9 L750.6 515.8 L750.9 516.6 L751.2 514.4 L751.5 515.1 L751.8 519.9 L752.0 516.0 L752.3 518.1 L752.6 514.6 L752.9 512.6 L753.2 516.8 L753.5 516.0 L753.8 516.4 L754.1 515.6 L754.3 515.2 L754.6 514.3 L754.9 517.5 L755.2 514.0 L755.5 517.4 L755.8 515.8 L756.1 514.6 L756.3 515.2 L756.6 517.5 L756.9 517.2 L757.2 516.8 L757.5 516.3 L757.8 514.6 L758.1 518.0 L758.4 515.6 L758.6 515.4 L758.9 515.5 L759.2 515.6 L759.5 514.2 L759.8 515.6 L760.1 515.1 L760.4 515.5 L760.6 513.8 L760.9 518.9 L761.2 514.6 L761.5 516.7 L761.8 516.7 L762.1 517.7 L762.4 518.9 L762.7 516.9 L762.9 517.3 L763.2 515.7 L763.5 518.4 L763.8 514.4 L764.1 516.0 L764.4 516.7 L764.7 517.4 L764.9 517.5 L765.2 518.0 L765.5 517.2 L765.8 516.4 L766.1 516.7 L766.4 518.4 L766.7 516.8 L767.0 517.7 L767.2 516.3 L767.5 513.9 L767.8 515.6 L768.1 516.9 L768.4 518.7 L768.7 518.5 L769.0 518.8 L769.2 515.5 L769.5 517.6 L769.8 516.5 L770.1 517.4 L770.4 516.4 L770.7 514.6 L771.0 517.5 L771.3 517.1 L771.5 517.7 L771.8 515.4 L772.1 518.0 L772.4 518.2 L772.7 518.5 L773.0 518.6 L773.3 516.0 L773.5 513.1 L773.8 518.0 L774.1 515.4 L774.4 516.3 L774.7 518.2 L775.0 517.1 L775.3 517.0 L775.5 517.7 L775.8 514.1 L776.1 519.3 L776.4 516.2 L776.7 516.3 L777.0 517.5 L777.3 516.5 L777.6 515.6 L777.8 516.6 L778.1 516.2 L778.4 515.8 L778.7 519.6 L779.0 514.8 L779.3 513.7 L779.6 515.5 L779.8 515.4 L780.1 518.8 L780.4 517.0 L780.7 518.0 L781.0 517.7 L781.3 515.5 L781.6 518.0 L781.9 517.0 L782.1 519.5 L782.4 517.1 L782.7 516.8 L783.0 517.9 L783.3 517.9 L783.6 514.3 L783.9 518.6 L784.1 518.4 L784.4 518.0 L784.7 515.3 L785.0 514.1 L785.3 516.5 L785.6 517.9 L785.9 517.6 L786.2 515.5 L786.4 518.2 L786.7 515.0 L787.0 515.1 L787.3 516.9 L787.6 516.1 L787.9 516.0 L788.2 514.9 L788.4 518.5 L788.7 515.4 L789.0 517.6 L789.3 518.1 L789.6 516.9 L789.9 517.4 L790.2 518.4 L790.5 519.3 L790.7 518.4 L791.0 515.1 L791.3 514.4 L791.6 516.2 L791.9 515.5 L792.2 517.8 L792.5 517.3 L792.7 516.8 L793.0 518.6 L793.3 518.5 L793.6 517.0 L793.9 517.6 L794.2 518.6 L794.5 516.7 L794.8 517.6 L795.0 515.8 L795.3 517.2 L795.6 517.6 L795.9 517.1 L796.2 517.5 L796.5 518.2 L796.8 517.8 L797.0 516.2 L797.3 516.4 L797.6 515.5 L797.9 519.6 L798.2 517.8 L798.5 517.9 L798.8 517.1 L799.0 517.9 L799.3 518.0 L799.6 516.3 L799.9 517.1 L800.2 518.9 L800.5 515.5 L800.8 516.0 L801.1 518.2 L801.3 516.2 L801.6 518.4 L801.9 515.9 L802.2 517.7 L802.5 518.5 L802.8 517.9 L803.1 518.5 L803.3 517.2 L803.6 517.2 L803.9 517.4 L804.2 518.2 L804.5 522.4 L804.8 517.3 L805.1 520.1 L805.4 517.2 L805.6 516.0 L805.9 517.1 L806.2 518.0 L806.5 517.8 L806.8 517.7 L807.1 518.3 L807.4 518.3 L807.6 518.8 L807.9 515.9 L808.2 517.6 L808.5 516.3 L808.8 517.9 L809.1 517.5 L809.4 517.8 L809.7 517.0 L809.9 516.5 L810.2 517.3 L810.5 518.5 L810.8 518.7 L811.1 515.4 L811.4 518.0 L811.7 518.0 L811.9 515.7 L812.2 516.2 L812.5 516.9 L812.8 518.2 L813.1 514.5 L813.4 517.2 L813.7 517.0 L814.0 517.9 L814.2 519.6 L814.5 519.5 L814.8 517.2 L815.1 517.2 L815.4 518.1 L815.7 519.3 L816.0 519.7 L816.2 518.2 L816.5 519.7 L816.8 516.6 L817.1 516.2 L817.4 514.0 L817.7 516.6 L818.0 518.6 L818.3 519.0 L818.5 522.5 L818.8 518.6 L819.1 518.1 L819.4 516.5 L819.7 517.0 L820.0 517.1 L820.3 517.6 L820.5 517.0 L820.8 515.9 L821.1 519.3 L821.4 518.5 L821.7 519.8 L822.0 515.7 L822.3 516.2 L822.5 516.9 L822.8 519.6 L823.1 517.7 L823.4 518.3 L823.7 517.8 L824.0 518.2 L824.3 517.3 L824.6 518.5 L824.8 516.8 L825.1 517.7 L825.4 518.4 L825.7 518.2 L826.0 518.6 L826.3 516.9 L826.6 518.4 L826.8 517.6 L827.1 518.6 L827.4 520.1 L827.7 516.8 L828.0 519.5 L828.3 517.2 L828.6 517.5 L828.9 520.3 L829.1 519.4 L829.4 518.8 L829.7 519.2 L830.0 519.7"/>
<path stroke="#f00" d="M142.2 511.6 L142.5 419.7 L142.8 417.9 L143.1 420.2 L143.3 418.1 L143.6 421.2 L143.9 419.1 L144.2 417.3 L144.5 418.8 L144.8 420.3 L145.1 422.2 L145.4 418.5 L145.6 418.0 L145.9 419.7 L146.2 421.2 L146.5 417.4 L146.8 411.7 L147.1 419.9 L147.4 418.0 L147.6 417.9 L147.9 426.5 L148.2 418.6 L148.5 421.0 L148.8 414.9 L149.1 419.7 L149.4 421.3 L149.7 419.6 L149.9 418.5 L150.2 420.6 L150.5 419.1 L150.8 422.9 L151.1 419.6 L151.4 416.7 L151.7 413.2 L151.9 416.9 L152.2 418.2 L152.5 415.5 L152.8 416.0 L153.1 414.1 L153.4 415.8 L153.7 419.3 L153.9 418.2 L154.2 418.5 L154.5 418.1 L154.8 418.4 L155.1 421.3 L155.4 425.1 L155.7 420.9 L156.0 424.9 L156.2 418.8 L156.5 419.0 L156.8 423.9 L157.1 417.0 L157.4 416.4 L157.7 418.7 L158.0 414.1 L158.2 413.5 L158.5 422.5 L158.8 415.9 L159.1 417.7 L159.4 417.8 L159.7 416.2 L160.0 421.1 L160.3 420.7 L160.5 421.4 L160.8 421.2 L161.1 419.3 L161.4 423.2 L161.7 422.0 L162.0 417.3 L162.3 419.2 L162.5 417.9 L162.8 424.5 L163.1 421.3 L163.4 420.6 L163.7 418.9 L164.0 420.7 L164.3 416.3 L164.6 419.2 L164.8 418.9 L165.1 418.9 L165.4 416.9 L165.7 420.4 L166.0 415.7 L166.3 417.6 L166.6 418.5 L166.8 419.0 L167.1 397.2 L167.4 375.5 L167.7 353.8 L168.0 332.0 L168.3 310.3 L168.6 288.5 L168.9 266.8 L169.1 245.1 L169.4 223.3 L169.7 201.6 L170.0 179.8 L170.3 158.1 L170.6 136.4 L170.9 114.6 L171.1 116.6 L171.4 118.6 L171.7 128.6 L172.0 119.7 L172.3 126.5 L172.6 116.7 L172.9 133.7 L173.2 141.7 L173.4 131.9 L173.7 135.9 L174.0 138.1 L174.3 148.7 L174.6 136.6 L174.9 131.2 L175.2 149.9 L175.4 135.3 L175.7 144.9 L176.0 131.1 L176.3 141.5 L176.6 145.4 L176.9 139.7 L177.2 143.4 L177.4 149.8 L177.7 144.1 L178.0 151.0 L178.3 158.1 L178.6 140.0 L178.9 152.4 L179.2 154.3 L179.5 150.1 L179.7 160.0 L180.0 159.5 L180.3 155.9 L180.6 156.5 L180.9 154.1 L181.2 149.5 L181.5 157.9 L181.7 153.6 L182.0 153.6 L182.3 162.5 L182.6 156.5 L182.9 162.8 L183.2 153.5 L183.5 157.0 L183.8 159.7 L184.0 166.8 L184.3 160.3 L184.6 165.1 L184.9 158.4 L185.2 163.0 L185.5 166.9 L185.8 158.9 L186.0 160.5 L186.3 167.4 L186.6 159.4 L186.9 167.0 L187.2 167.5 L187.5 166.0 L187.8 170.7 L188.1 169.7 L188.3 168.9 L188.6 161.2 L188.9 161.9 L189.2 170.9 L189.5 162.4 L189.8 170.9 L190.1 169.4 L190.3 167.4 L190.6 170.8 L190.9 161.1 L191.2 172.0 L191.5 179.3 L191.8 167.7 L192.1 176.4 L192.4 176.3 L192.6 189.6 L192.9 170.8 L193.2 172.1 L193.5 172.6 L193.8 172.2 L194.1 169.2 L194.4 177.9 L194.6 173.6 L194.9 182.0 L195.2 180.6 L195.5 174.2 L195.8 177.8 L196.1 186.5 L196.4 178.8 L196.7 181.8 L196.9 185.2 L197.2 179.6 L197.5 184.0 L197.8 190.0 L198.1 188.2 L198.4 174.9 L198.7 190.9 L198.9 183.1 L199.2 181.6 L199.5 181.9 L199.8 191.1 L200.1 187.2 L200.4 185.4 L200.7 182.7 L200.9 189.9 L201.2 192.8 L201.5 183.0 L201.8 182.9 L202.1 186.7 L202.4 191.7 L202.7 187.4 L203.0 189.1 L203.2 186.1 L203.5 196.1 L203.8 189.9 L204.1 191.4 L204.4 196.1 L204.7 190.1 L205.0 191.2 L205.2 193.5 L205.5 189.9 L205.8 198.7 L206.1 192.5 L206.4 190.4 L206.7 191.3 L207.0 187.8 L207.3 198.7 L207.5 200.4 L207.8 192.4 L208.1 191.6 L208.4 184.1 L208.7 191.3 L209.0 198.5 L209.3 190.9 L209.5 198.8 L209.8 202.0 L210.1 183.1 L210.4 194.0 L210.7 192.4 L211.0 193.3 L211.3 187.7 L211.6 195.1 L211.8 190.9 L212.1 201.6 L212.4 203.5 L212.7 190.6 L213.0 190.6 L213.3 195.3 L213.6 196.9 L213.8 197.4 L214.1 201.5 L214.4 191.4 L214.7 195.7 L215.0 196.6 L215.3 197.5 L215.6 194.6 L215.9 197.3 L216.1 196.4 L216.4 205.5 L216.7 197.9 L217.0 190.4 L217.3 203.1 L217.6 201.5 L217.9 197.0 L218.1 196.9 L218.4 198.7 L218.7 209.3 L219.0 199.7 L219.3 207.7 L219.6 206.2 L219.9 200.1 L220.2 204.2 L220.4 199.3 L220.7 188.7 L221.0 199.9 L221.3 200.4 L221.6 208.1 L221.9 207.1 L222.2 209.3 L222.4 207.0 L222.7 209.8 L223.0 208.0 L223.3 206.2 L223.6 210.0 L223.9 212.2 L224.2 212.1 L224.4 204.0 L224.7 206.0 L225.0 201.8 L225.3 201.9 L225.6 208.5 L225.9 204.0 L226.2 213.9 L226.5 197.0 L226.7 202.2 L227.0 208.9 L227.3 213.5 L227.6 206.6 L227.9 217.2 L228.2 212.4 L228.5 205.6 L228.7 208.9 L229.0 211.7 L229.3 205.3 L229.6 214.7 L229.9 208.8 L230.2 212.6 L230.5 214.5 L230.8 208.7 L231.0 215.6 L231.3 202.5 L231.6 214.1 L231.9 202.6 L232.2 216.9 L232.5 209.4 L232.8 217.8 L233.0 218.7 L233.3 212.0 L233.6 209.9 L233.9 219.0 L234.2 208.0 L234.5 217.3 L234.8 213.3 L235.1 212.4 L235.3 211.6 L235.6 222.7 L235.9 207.4 L236.2 212.4 L236.5 217.1 L236.8 220.0 L237.1 223.3 L237.3 222.0 L237.6 213.6 L237.9 217.8 L238.2 221.6 L238.5 219.1 L238.8 209.8 L239.1 218.6 L239.4 220.0 L239.6 211.4 L239.9 215.7 L240.2 217.8 L240.5 221.0 L240.8 225.4 L241.1 223.9 L241.4 221.0 L241.6 220.1 L241.9 217.7 L242.2 217.0 L242.5 218.7 L242.8 218.9 L243.1 224.7 L243.4 230.1 L243.7 222.9 L243.9 225.1 L244.2 223.9 L244.5 222.4 L244.8 227.0 L245.1 226.6 L245.4 222.3 L245.7 221.5 L245.9 225.2 L246.2 220.2 L246.5 223.7 L246.8 227.5 L247.1 222.9 L247.4 214.9 L247.7 226.6 L247.9 218.5 L248.2 217.8 L248.5 217.5 L248.8 228.1 L249.1 215.6 L249.4 224.3 L249.7 226.2 L250.0 226.3 L250.2 222.8 L250.5 225.4 L250.8 226.7 L251.1 220.3 L251.4 229.5 L251.7 231.2 L252.0 223.2 L252.2 223.8 L252.5 222.2 L252.8 232.0 L253.1 222.6 L253.4 225.5 L253.7 219.9 L254.0 233.5 L254.3 227.2 L254.5 229.6 L254.8 235.6 L255.1 231.9 L255.4 223.8 L255.7 231.1 L256.0 232.4 L256.3 225.5 L256.5 225.2 L256.8 225.3 L257.1 233.4 L257.4 230.3 L257.7 225.7 L258.0 233.3 L258.3 233.9 L258.6 227.1 L258.8 224.0 L259.1 236.3 L259.4 242.8 L259.7 237.9 L260.0 236.2 L260.3 232.4 L260.6 229.2 L260.8 232.8 L261.1 235.4 L261.4 231.7 L261.7 236.8 L262.0 232.9 L262.3 235.7 L262.6 221.2 L262.9 229.6 L263.1 237.0 L263.4 237.9 L263.7 235.6 L264.0 241.1 L264.3 237.2 L264.6 237.4 L264.9 230.3 L265.1 236.3 L265.4 238.0 L265.7 240.6 L266.0 240.0 L266.3 235.3 L266.6 236.1 L266.9 230.3 L267.2 238.2 L267.4 230.9 L267.7 234.6 L268.0 235.9 L268.3 244.9 L268.6 241.9 L268.9 233.1 L269.2 230.3 L269.4 235.7 L269.7 233.4 L270.0 238.7 L270.3 238.7 L270.6 240.2 L270.9 233.1 L271.2 236.0 L271.4 238.7 L271.7 239.3 L272.0 235.5 L272.3 236.7 L272.6 241.9 L272.9 230.9 L273.2 237.5 L273.5 238.7 L273.7 232.4 L274.0 234.5 L274.3 239.6 L274.6 237.0 L274.9 244.2 L275.2 242.4 L275.5 249.7 L275.7 234.6 L276.0 248.4 L276.3 237.2 L276.6 244.0 L276.9 244.8 L277.2 241.5 L277.5 239.6 L277.8 238.3 L278.0 233.4 L278.3 239.7 L278.6 237.5 L278.9 244.2 L279.2 238.6 L279.5 241.2 L279.8 244.0 L280.0 242.6 L280.3 242.5 L280.6 241.6 L280.9 240.8 L281.2 244.9 L281.5 246.1 L281.8 239.8 L282.1 250.5 L282.3 246.0 L282.6 236.7 L282.9 255.4 L283.2 246.8 L283.5 240.9 L283.8 251.2 L284.1 232.9 L284.3 255.6 L284.6 238.2 L284.9 237.8 L285.2 240.8 L285.5 245.9 L285.8 243.5 L286.1 249.1 L286.4 241.8 L286.6 250.3 L286.9 246.8 L287.2 241.5 L287.5 250.8 L287.8 247.6 L288.1 245.5 L288.4 252.2 L288.6 241.5 L288.9 245.2 L289.2 253.4 L289.5 247.1 L289.8 250.4 L290.1 250.1 L290.4 247.0 L290.7 250.6 L290.9 243.5 L291.2 250.8 L291.5 243.7 L291.8 248.3 L292.1 244.5 L292.4 250.7 L292.7 250.7 L292.9 253.6 L293.2 246.3 L293.5 244.9 L293.8 239.9 L294.1 243.7 L294.4 248.3 L294.7 250.4 L294.9 248.0 L295.2 249.9 L295.5 243.6 L295.8 246.0 L296.1 253.8 L296.4 253.3 L296.7 244.6 L297.0 249.3 L297.2 251.8 L297.5 245.8 L297.8 252.8 L298.1 252.4 L298.4 253.3 L298.7 259.8 L299.0 247.8 L299.2 256.8 L299.5 254.2 L299.8 255.0 L300.1 248.8 L300.4 252.3 L300.7 252.1 L301.0 259.4 L301.3 252.7 L301.5 258.8 L301.8 251.2 L302.1 251.1 L302.4 252.8 L302.7 244.1 L303.0 250.7 L303.3 250.5 L303.5 252.5 L303.8 254.1 L304.1 249.2 L304.4 248.7 L304.7 259.1 L305.0 249.1 L305.3 251.6 L305.6 249.7 L305.8 252.0 L306.1 259.4 L306.4 259.2 L306.7 246.5 L307.0 253.3 L307.3 260.5 L307.6 253.1 L307.8 256.2 L308.1 262.7 L308.4 264.7 L308.7 261.8 L309.0 253.9 L309.3 255.4 L309.6 256.4 L309.9 254.2 L310.1 252.9 L310.4 264.6 L310.7 257.0 L311.0 259.3 L311.3 261.2 L311.6 258.3 L311.9 256.6 L312.1 257.3 L312.4 262.5 L312.7 258.5 L313.0 247.9 L313.3 261.1 L313.6 263.9 L313.9 255.6 L314.1 254.4 L314.4 255.0 L314.7 261.9 L315.0 253.0 L315.3 260.7 L315.6 262.2 L315.9 260.1 L316.2 258.1 L316.4 254.7 L316.7 255.2 L317.0 258.0 L317.3 254.0 L317.6 257.8 L317.9 254.4 L318.2 264.3 L318.4 265.1 L318.7 255.2 L319.0 264.5 L319.3 260.0 L319.6 259.2 L319.9 261.0 L320.2 260.9 L320.5 253.2 L320.7 270.0 L321.0 255.6 L321.3 249.7 L321.6 259.4 L321.9 259.7 L322.2 256.6 L322.5 252.1 L322.7 265.0 L323.0 259.6 L323.3 260.9 L323.6 257.8 L323.9 259.6 L324.2 257.6 L324.5 262.3 L324.8 260.4 L325.0 263.6 L325.3 263.6 L325.6 261.5 L325.9 261.6 L326.2 266.1 L326.5 254.6 L326.8 261.9 L327.0 267.3 L327.3 256.9 L327.6 264.8 L327.9 259.6 L328.2 261.9 L328.5 260.9 L328.8 261.3 L329.1 264.5 L329.3 262.0 L329.6 253.7 L329.9 271.9 L330.2 262.2 L330.5 260.8 L330.8 267.1 L331.1 268.6 L331.3 253.8 L331.6 264.6 L331.9 254.3 L332.2 260.9 L332.5 263.0 L332.8 261.4 L333.1 260.8 L333.4 258.6 L333.6 261.9 L333.9 263.2 L334.2 263.1 L334.5 258.3 L334.8 260.6 L335.1 268.4 L335.4 267.0 L335.6 263.0 L335.9 267.1 L336.2 266.2 L336.5 268.7 L336.8 265.8 L337.1 263.0 L337.4 260.7 L337.6 265.0 L337.9 256.4 L338.2 265.5 L338.5 251.8 L338.8 261.1 L339.1 263.4 L339.4 267.6 L339.7 277.5 L339.9 266.4 L340.2 265.0 L340.5 257.8 L340.8 271.8 L341.1 258.1 L341.4 267.2 L341.7 263.2 L341.9 277.0 L342.2 265.8 L342.5 267.9 L342.8 263.7 L343.1 266.3 L343.4 271.5 L343.7 262.9 L344.0 264.0 L344.2 264.5 L344.5 262.9 L344.8 262.6 L345.1 267.4 L345.4 273.1 L345.7 273.3 L346.0 261.9 L346.2 264.7 L346.5 267.3 L346.8 269.6 L347.1 267.8 L347.4 267.9 L347.7 269.5 L348.0 271.1 L348.3 259.2 L348.5 267.4 L348.8 270.9 L349.1 273.9 L349.4 271.6 L349.7 265.7 L350.0 265.6 L350.3 269.8 L350.5 268.7 L350.8 270.3 L351.1 273.7 L351.4 263.8 L351.7 267.7 L352.0 259.0 L352.3 272.6 L352.6 270.1 L352.8 265.9 L353.1 270.7 L353.4 275.6 L353.7 273.8 L354.0 269.6 L354.3 268.6 L354.6 270.5 L354.8 266.0 L355.1 266.2 L355.4 269.1 L355.7 270.4 L356.0 271.6 L356.3 268.4 L356.6 266.9 L356.9 270.6 L357.1 269.0 L357.4 272.4 L357.7 277.0 L358.0 275.3 L358.3 268.1 L358.6 269.5 L358.9 264.8 L359.1 271.3 L359.4 268.0 L359.7 266.2 L360.0 267.6 L360.3 274.4 L360.6 272.7 L360.9 271.5 L361.1 276.2 L361.4 270.2 L361.7 268.0 L362.0 274.4 L362.3 264.3 L362.6 273.8 L362.9 273.5 L363.2 273.7 L363.4 275.7 L363.7 271.2 L364.0 272.9 L364.3 266.2 L364.6 270.6 L364.9 271.0 L365.2 274.2 L365.4 279.3 L365.7 273.9 L366.0 277.1 L366.3 269.7 L366.6 273.9 L366.9 266.9 L367.2 270.9 L367.5 270.5 L367.7 273.1 L368.0 273.3 L368.3 271.6 L368.6 270.5 L368.9 277.4 L369.2 272.5 L369.5 263.8 L369.7 275.1 L370.0 275.8 L370.3 277.7 L370.6 280.9 L370.9 270.1 L371.2 274.9 L371.5 274.0 L371.8 267.7 L372.0 265.0 L372.3 279.1 L372.6 271.2 L372.9 273.0 L373.2 274.1 L373.5 273.8 L373.8 276.0 L374.0 269.4 L374.3 273.5 L374.6 274.8 L374.9 271.2 L375.2 272.7 L375.5 274.6 L375.8 275.3 L376.1 269.5 L376.3 274.7 L376.6 277.3 L376.9 280.6 L377.2 278.6 L377.5 281.6 L377.8 276.9 L378.1 276.4 L378.3 286.0 L378.6 277.6 L378.9 275.1 L379.2 277.2 L379.5 281.9 L379.8 272.9 L380.1 281.1 L380.4 283.4 L380.6 282.9 L380.9 278.6 L381.2 274.6 L381.5 274.0 L381.8 278.0 L382.1 283.9 L382.4 281.8 L382.6 282.9 L382.9 280.0 L383.2 286.7 L383.5 279.0 L383.8 277.0 L384.1 280.3 L384.4 277.9 L384.6 283.8 L384.9 286.0 L385.2 282.7 L385.5 275.5 L385.8 276.1 L386.1 282.3 L386.4 275.6 L386.7 282.0 L386.9 274.6 L387.2 278.9 L387.5 282.8 L387.8 277.8 L388.1 284.4 L388.4 285.1 L388.7 287.3 L388.9 280.4 L389.2 281.8 L389.5 282.0 L389.8 283.5 L390.1 276.0 L390.4 283.8 L390.7 285.1 L391.0 277.1 L391.2 276.5 L391.5 281.1 L391.8 289.7 L392.1 285.1 L392.4 280.3 L392.7 282.8 L393.0 276.6 L393.2 288.6 L393.5 280.4 L393.8 285.8 L394.1 278.0 L394.4 283.8 L394.7 279.4 L395.0 286.3 L395.3 289.5 L395.5 288.4 L395.8 286.5 L396.1 288.3 L396.4 279.3 L396.7 278.9 L397.0 283.3 L397.3 288.7 L397.5 285.1 L397.8 287.5 L398.1 278.9 L398.4 283.7 L398.7 283.1 L399.0 286.8 L399.3 293.4 L399.6 288.5 L399.8 290.0 L400.1 284.1 L400.4 285.2 L400.7 288.9 L401.0 287.3 L401.3 279.5 L401.6 289.8 L401.8 289.7 L402.1 286.9 L402.4 288.9 L402.7 287.9 L403.0 284.0 L403.3 279.2 L403.6 293.5 L403.9 286.5 L404.1 286.3 L404.4 286.9 L404.7 287.3 L405.0 288.0 L405.3 282.7 L405.6 288.7 L405.9 287.4 L406.1 286.9 L406.4 286.5 L406.7 287.7 L407.0 283.1 L407.3 287.2 L407.6 286.5 L407.9 287.5 L408.1 291.4 L408.4 290.8 L408.7 291.7 L409.0 286.8 L409.3 290.5 L409.6 292.0 L409.9 286.8 L410.2 285.7 L410.4 295.0 L410.7 281.1 L411.0 287.9 L411.3 288.5 L411.6 283.8 L411.9 287.9 L412.2 290.7 L412.4 279.5 L412.7 292.7 L413.0 288.9 L413.3 285.1 L413.6 292.9 L413.9 289.1 L414.2 287.2 L414.5 279.1 L414.7 292.4 L415.0 289.1 L415.3 286.3 L415.6 288.7 L415.9 294.0 L416.2 287.5 L416.5 288.8 L416.7 287.5 L417.0 284.8 L417.3 285.3 L417.6 287.8 L417.9 288.3 L418.2 294.0 L418.5 290.2 L418.8 288.9 L419.0 291.4 L419.3 289.5 L419.6 293.3 L419.9 283.8 L420.2 281.4 L420.5 291.7 L420.8 288.6 L421.0 291.3 L421.3 285.3 L421.6 288.7 L421.9 290.3 L422.2 291.6 L422.5 290.2 L422.8 294.9 L423.1 288.2 L423.3 293.9 L423.6 288.9 L423.9 290.6 L424.2 286.9 L424.5 291.4 L424.8 287.3 L425.1 295.2 L425.3 289.1 L425.6 292.6 L425.9 291.0 L426.2 291.5 L426.5 288.2 L426.8 300.1 L427.1 290.8 L427.4 298.2 L427.6 287.4 L427.9 300.2 L428.2 296.4 L428.5 299.2 L428.8 286.0 L429.1 297.8 L429.4 292.3 L429.6 295.0 L429.9 300.1 L430.2 294.4 L430.5 290.4 L430.8 293.9 L431.1 289.5 L431.4 294.8 L431.6 293.4 L431.9 295.0 L432.2 292.2 L432.5 286.1 L432.8 292.3 L433.1 293.1 L433.4 296.4 L433.7 297.0 L433.9 288.2 L434.2 298.6 L434.5 297.9 L434.8 294.7 L435.1 296.1 L435.4 286.7 L435.7 304.0 L435.9 293.2 L436.2 291.9 L436.5 299.3 L436.8 297.5 L437.1 293.3 L437.4 288.6 L437.7 298.8 L438.0 301.5 L438.2 291.4 L438.5 289.3 L438.8 296.8 L439.1 304.4 L439.4 289.9 L439.7 296.5 L440.0 291.3 L440.2 296.1 L440.5 297.5 L440.8 297.9 L441.1 290.3 L441.4 290.5 L441.7 304.8 L442.0 300.1 L442.3 289.4 L442.5 298.0 L442.8 302.0 L443.1 296.7 L443.4 297.2 L443.7 297.3 L444.0 298.9 L444.3 298.3 L444.5 298.9 L444.8 295.9 L445.1 300.5 L445.4 298.5 L445.7 298.0 L446.0 292.3 L446.3 296.1 L446.6 298.1 L446.8 295.7 L447.1 296.2 L447.4 293.6 L447.7 296.0 L448.0 291.0 L448.3 292.9 L448.6 298.4 L448.8 300.0 L449.1 294.9 L449.4 296.5 L449.7 299.0 L450.0 304.5 L450.3 306.0 L450.6 297.5 L450.9 295.9 L451.1 295.8 L451.4 304.2 L451.7 295.1 L452.0 301.4 L452.3 297.8 L452.6 297.8 L452.9 302.7 L453.1 301.9 L453.4 307.8 L453.7 303.4 L454.0 306.9 L454.3 298.2 L454.6 299.7 L454.9 296.4 L455.1 298.7 L455.4 302.7 L455.7 298.9 L456.0 301.9 L456.3 298.1 L456.6 299.3 L456.9 304.5 L457.2 300.7 L457.4 300.6 L457.7 302.1 L458.0 297.4 L458.3 294.3 L458.6 302.6 L458.9 302.6 L459.2 310.1 L459.4 301.9 L459.7 303.1 L460.0 310.0 L460.3 300.4 L460.6 299.3 L460.9 304.6 L461.2 303.3 L461.5 305.7 L461.7 299.0 L462.0 308.0 L462.3 303.4 L462.6 294.6 L462.9 302.1 L463.2 300.5 L463.5 303.0 L463.7 307.2 L464.0 302.8 L464.3 301.1 L464.6 306.8 L464.9 301.5 L465.2 298.1 L465.5 298.8 L465.8 309.3 L466.0 307.0 L466.3 309.6 L466.6 299.1 L466.9 301.0 L467.2 300.7 L467.5 307.0 L467.8 308.2 L468.0 303.4 L468.3 303.4 L468.6 307.3 L468.9 303.4 L469.2 301.5 L469.5 303.3 L469.8 308.3 L470.1 312.6 L470.3 305.4 L470.6 303.8 L470.9 305.6 L471.2 306.3 L471.5 307.4 L471.8 302.0 L472.1 305.1 L472.3 304.5 L472.6 308.8 L472.9 307.5 L473.2 304.5 L473.5 309.2 L473.8 310.3 L474.1 306.7 L474.4 300.8 L474.6 304.8 L474.9 299.9 L475.2 306.2 L475.5 307.0 L475.8 311.3 L476.1 308.2 L476.4 300.4 L476.6 304.8 L476.9 303.3 L477.2 303.5 L477.5 306.3 L477.8 307.2 L478.1 306.0 L478.4 303.9 L478.6 304.8 L478.9 304.7 L479.2 306.1 L479.5 309.8 L479.8 307.8 L480.1 310.6 L480.4 303.0 L480.7 315.2 L480.9 307.9 L481.2 297.9 L481.5 308.6 L481.8 311.7 L482.1 307.4 L482.4 302.4 L482.7 308.1 L482.9 305.2 L483.2 307.2 L483.5 309.1 L483.8 295.5 L484.1 307.5 L484.4 310.0 L484.7 309.9 L485.0 306.5 L485.2 306.5 L485.5 305.1 L485.8 307.7 L486.1 313.9 L486.4 306.3 L486.7 309.6 L487.0 309.6 L487.2 314.3 L487.5 310.8 L487.8 311.5 L488.1 308.9 L488.4 314.5 L488.7 308.7 L489.0 308.5 L489.3 313.4 L489.5 311.5 L489.8 312.5 L490.1 305.7 L490.4 319.1 L490.7 310.7 L491.0 315.8 L491.3 311.1 L491.5 306.3 L491.8 312.0 L492.1 309.1 L492.4 313.0 L492.7 302.3 L493.0 306.3 L493.3 305.6 L493.6 315.1 L493.8 314.3 L494.1 305.9 L494.4 310.9 L494.7 311.3 L495.0 309.0 L495.3 315.3 L495.6 307.5 L495.8 310.4 L496.1 308.7 L496.4 313.2 L496.7 308.7 L497.0 313.5 L497.3 307.2 L497.6 306.5 L497.8 307.5 L498.1 309.0 L498.4 308.7 L498.7 321.6 L499.0 308.0 L499.3 312.4 L499.6 311.0 L499.9 312.5 L500.1 316.9 L500.4 313.6 L500.7 309.1 L501.0 306.2 L501.3 314.2 L501.6 315.3 L501.9 306.3 L502.1 315.4 L502.4 304.0 L502.7 311.9 L503.0 315.6 L503.3 308.4 L503.6 305.8 L503.9 317.9 L504.2 306.4 L504.4 313.6 L504.7 306.8 L505.0 314.1 L505.3 318.8 L505.6 310.8 L505.9 309.2 L506.2 304.8 L506.4 306.3 L506.7 310.3 L507.0 314.0 L507.3 315.1 L507.6 314.3 L507.9 316.5 L508.2 314.4 L508.5 323.2 L508.7 312.8 L509.0 313.6 L509.3 303.7 L509.6 310.7 L509.9 315.6 L510.2 311.6 L510.5 318.6 L510.7 316.2 L511.0 321.2 L511.3 308.5 L511.6 311.8 L511.9 318.7 L512.2 314.5 L512.5 310.6 L512.8 312.5 L513.0 313.0 L513.3 317.8 L513.6 317.0 L513.9 314.2 L514.2 311.1 L514.5 317.9 L514.8 319.1 L515.0 310.5 L515.3 318.5 L515.6 310.9 L515.9 314.1 L516.2 311.7 L516.5 308.5 L516.8 312.6 L517.1 312.3 L517.3 318.9 L517.6 318.1 L517.9 313.0 L518.2 309.7 L518.5 310.3 L518.8 306.8 L519.1 314.6 L519.3 315.1 L519.6 312.0 L519.9 315.9 L520.2 316.3 L520.5 320.1 L520.8 312.4 L521.1 320.3 L521.3 314.3 L521.6 321.8 L521.9 312.2 L522.2 320.4 L522.5 313.3 L522.8 322.7 L523.1 318.4 L523.4 312.2 L523.6 319.9 L523.9 316.6 L524.2 318.8 L524.5 325.8 L524.8 315.9 L525.1 315.5 L525.4 321.4 L525.6 315.1 L525.9 320.3 L526.2 321.2 L526.5 317.4 L526.8 320.1 L527.1 308.8 L527.4 323.6 L527.7 314.9 L527.9 314.0 L528.2 325.4 L528.5 324.5 L528.8 315.8 L529.1 319.8 L529.4 316.6 L529.7 313.8 L529.9 319.6 L530.2 322.3 L530.5 328.7 L530.8 317.6 L531.1 322.0 L531.4 317.3 L531.7 317.7 L532.0 323.9 L532.2 312.1 L532.5 314.6 L532.8 315.6 L533.1 323.4 L533.4 320.5 L533.7 321.1 L534.0 320.7 L534.2 323.4 L534.5 317.6 L534.8 318.4 L535.1 317.9 L535.4 321.3 L535.7 314.6 L536.0 318.8 L536.3 330.0 L536.5 322.1 L536.8 319.9 L537.1 316.1 L537.4 321.0 L537.7 320.9 L538.0 322.5 L538.3 317.5 L538.5 321.8 L538.8 322.5 L539.1 323.0 L539.4 318.2 L539.7 322.4 L540.0 326.8 L540.3 318.1 L540.6 323.2 L540.8 319.2 L541.1 319.2 L541.4 316.2 L541.7 316.8 L542.0 323.0 L542.3 321.5 L542.6 325.9 L542.8 314.7 L543.1 319.4 L543.4 315.9 L543.7 322.4 L544.0 329.1 L544.3 315.6 L544.6 321.1 L544.8 321.0 L545.1 321.3 L545.4 319.2 L545.7 319.6 L546.0 327.7 L546.3 317.7 L546.6 323.9 L546.9 323.7 L547.1 315.4 L547.4 318.6 L547.7 323.4 L548.0 329.2 L548.3 321.6 L548.6 320.3 L548.9 322.7 L549.1 327.1 L549.4 325.5 L549.7 327.3 L550.0 321.8 L550.3 319.6 L550.6 318.9 L550.9 325.6 L551.2 322.0 L551.4 320.8 L551.7 324.9 L552.0 323.6 L552.3 315.1 L552.6 322.4 L552.9 319.9 L553.2 324.9 L553.4 323.2 L553.7 329.9 L554.0 323.6 L554.3 319.0 L554.6 315.7 L554.9 319.2 L555.2 321.1 L555.5 323.6 L555.7 326.1 L556.0 324.5 L556.3 321.7 L556.6 327.0 L556.9 320.6 L557.2 327.9 L557.5 330.9 L557.7 328.1 L558.0 330.6 L558.3 329.6 L558.6 320.2 L558.9 325.3 L559.2 323.8 L559.5 320.3 L559.8 320.0 L560.0 326.7 L560.3 319.8 L560.6 323.5 L560.9 325.0 L561.2 323.4 L561.5 330.4 L561.8 328.1 L562.0 325.6 L562.3 323.0 L562.6 326.7 L562.9 325.9 L563.2 321.8 L563.5 320.2 L563.8 322.7 L564.1 320.9 L564.3 327.2 L564.6 326.9 L564.9 324.6 L565.2 327.0 L565.5 327.9 L565.8 319.8 L566.1 326.8 L566.3 329.8 L566.6 324.4 L566.9 319.4 L567.2 326.0 L567.5 321.8 L567.8 328.1 L568.1 328.3 L568.3 329.1 L568.6 327.2 L568.9 319.8 L569.2 331.1 L569.5 320.7 L569.8 330.6 L570.1 327.8 L570.4 323.9 L570.6 324.7 L570.9 326.1 L571.2 333.3 L571.5 325.9 L571.8 331.1 L572.1 317.8 L572.4 328.2 L572.6 326.8 L572.9 331.8 L573.2 329.4 L573.5 332.5 L573.8 324.1 L574.1 328.8 L574.4 325.7 L574.7 330.5 L574.9 329.8 L575.2 323.2 L575.5 331.7 L575.8 334.9 L576.1 326.7 L576.4 332.5 L576.7 330.0 L576.9 325.0 L577.2 331.5 L577.5 325.2 L577.8 331.1 L578.1 323.1 L578.4 323.8 L578.7 330.5 L579.0 329.6 L579.2 332.0 L579.5 328.2 L579.8 324.7 L580.1 334.5 L580.4 325.7 L580.7 334.1 L581.0 332.5 L581.2 336.0 L581.5 321.5 L581.8 329.2 L582.1 328.6 L582.4 332.1 L582.7 325.6 L583.0 337.5 L583.3 329.6 L583.5 321.6 L583.8 331.3 L584.1 329.9 L584.4 327.5 L584.7 333.1 L585.0 330.0 L585.3 326.6 L585.5 329.5 L585.8 328.9 L586.1 331.6 L586.4 329.2 L586.7 330.3 L587.0 325.1 L587.3 327.9 L587.6 331.5 L587.8 339.8 L588.1 328.1 L588.4 328.0 L588.7 334.3 L589.0 338.4 L589.3 335.2 L589.6 327.6 L589.8 335.1 L590.1 332.9 L590.4 330.4 L590.7 326.8 L591.0 331.4 L591.3 331.8 L591.6 333.5 L591.8 325.5 L592.1 327.7 L592.4 332.0 L592.7 336.9 L593.0 334.7 L593.3 329.7 L593.6 334.6 L593.9 328.7 L594.1 330.7 L594.4 331.0 L594.7 329.7 L595.0 330.4 L595.3 335.4 L595.6 333.5 L595.9 323.7 L596.1 336.9 L596.4 334.3 L596.7 328.6 L597.0 333.2 L597.3 335.7 L597.6 337.6 L597.9 330.8 L598.2 329.1 L598.4 327.7 L598.7 332.8 L599.0 329.2 L599.3 336.9 L599.6 332.5 L599.9 335.7 L600.2 332.6 L600.4 330.6 L600.7 329.4 L601.0 337.1 L601.3 328.8 L601.6 335.3 L601.9 337.4 L602.2 334.3 L602.5 339.2 L602.7 333.8 L603.0 332.8 L603.3 334.7 L603.6 332.0 L603.9 335.2 L604.2 334.1 L604.5 339.5 L604.7 334.1 L605.0 337.4 L605.3 336.0 L605.6 334.8 L605.9 333.8 L606.2 340.6 L606.5 340.3 L606.8 335.8 L607.0 333.0 L607.3 333.4 L607.6 331.5 L607.9 330.1 L608.2 333.1 L608.5 335.1 L608.8 338.9 L609.0 338.6 L609.3 336.9 L609.6 334.3 L609.9 334.5 L610.2 335.3 L610.5 336.0 L610.8 333.2 L611.1 334.8 L611.3 334.5 L611.6 334.5 L611.9 337.7 L612.2 339.6 L612.5 334.0 L612.8 334.4 L613.1 336.8 L613.3 337.5 L613.6 327.7 L613.9 338.9 L614.2 337.0 L614.5 335.3 L614.8 340.5 L615.1 335.9 L615.3 329.8 L615.6 333.1 L615.9 334.2 L616.2 334.4 L616.5 336.2 L616.8 333.2 L617.1 337.3 L617.4 338.4 L617.6 336.5 L617.9 333.6 L618.2 335.8 L618.5 334.6 L618.8 344.5 L619.1 332.8 L619.4 328.7 L619.6 332.4 L619.9 338.5 L620.2 340.5 L620.5 336.5 L620.8 341.1 L621.1 334.9 L621.4 339.6 L621.7 334.2 L621.9 332.8 L622.2 345.3 L622.5 336.8 L622.8 340.5 L623.1 343.2 L623.4 340.3 L623.7 338.9 L623.9 334.4 L624.2 343.8 L624.5 334.5 L624.8 331.0 L625.1 336.2 L625.4 336.5 L625.7 338.6 L626.0 342.9 L626.2 336.7 L626.5 337.3 L626.8 336.1 L627.1 329.4 L627.4 336.2 L627.7 337.4 L628.0 333.3 L628.2 343.9 L628.5 343.2 L628.8 340.5 L629.1 341.5 L629.4 336.7 L629.7 340.4 L630.0 332.9 L630.3 333.8 L630.5 336.6 L630.8 340.8 L631.1 337.2 L631.4 336.5 L631.7 343.4 L632.0 338.3 L632.3 337.1 L632.5 338.9 L632.8 334.0 L633.1 335.3 L633.4 342.8 L633.7 339.4 L634.0 342.9 L634.3 337.8 L634.6 343.1 L634.8 336.7 L635.1 338.7 L635.4 336.6 L635.7 340.7 L636.0 345.5 L636.3 333.8 L636.6 340.9 L636.8 335.3 L637.1 338.8 L637.4 338.0 L637.7 333.8 L638.0 339.3 L638.3 335.5 L638.6 346.0 L638.8 337.5 L639.1 341.6 L639.4 341.2 L639.7 340.7 L640.0 339.5 L640.3 334.8 L640.6 347.6 L640.9 340.8 L641.1 343.6 L641.4 336.8 L641.7 342.6 L642.0 339.5 L642.3 342.6 L642.6 338.8 L642.9 337.6 L643.1 342.7 L643.4 341.1 L643.7 346.5 L644.0 340.3 L644.3 338.4 L644.6 343.5 L644.9 337.5 L645.2 349.1 L645.4 348.3 L645.7 346.7 L646.0 343.5 L646.3 341.7 L646.6 342.1 L646.9 342.1 L647.2 339.3 L647.4 343.6 L647.7 346.6 L648.0 346.5 L648.3 334.4 L648.6 350.6 L648.9 342.8 L649.2 336.9 L649.5 340.5 L649.7 345.3 L650.0 342.3 L650.3 339.2 L650.6 338.0 L650.9 345.7 L651.2 339.7 L651.5 341.6 L651.7 338.6 L652.0 337.6 L652.3 343.9 L652.6 348.0 L652.9 341.3 L653.2 336.4 L653.5 340.4 L653.8 342.1 L654.0 334.2 L654.3 346.7 L654.6 339.8 L654.9 345.1 L655.2 342.9 L655.5 342.8 L655.8 337.7 L656.0 346.6 L656.3 345.2 L656.6 349.1 L656.9 341.6 L657.2 345.1 L657.5 341.9 L657.8 347.4 L658.0 344.8 L658.3 339.8 L658.6 344.2 L658.9 341.4 L659.2 341.8 L659.5 345.0 L659.8 349.4 L660.1 340.3 L660.3 343.3 L660.6 340.4 L660.9 351.2 L661.2 350.0 L661.5 351.8 L661.8 347.3 L662.1 340.4 L662.3 342.1 L662.6 344.3 L662.9 343.8 L663.2 341.6 L663.5 345.4 L663.8 343.0 L664.1 343.9 L664.4 352.4 L664.6 345.9 L664.9 339.7 L665.2 346.0 L665.5 345.2 L665.8 346.9 L666.1 346.5 L666.4 340.7 L666.6 345.8 L666.9 348.5 L667.2 356.1 L667.5 347.0 L667.8 352.1 L668.1 351.6 L668.4 342.2 L668.7 342.6 L668.9 352.1 L669.2 342.1 L669.5 343.6 L669.8 348.1 L670.1 342.7 L670.4 351.2 L670.7 349.7 L670.9 350.6 L671.2 349.5 L671.5 342.4 L671.8 350.4 L672.1 349.8 L672.4 349.1 L672.7 345.0 L673.0 347.0 L673.2 342.7 L673.5 348.4 L673.8 350.5 L674.1 347.7 L674.4 345.8 L674.7 349.4 L675.0 345.1 L675.2 339.6 L675.5 348.3 L675.8 346.1 L676.1 341.4 L676.4 348.6 L676.7 349.4 L677.0 350.3 L677.3 345.0 L677.5 344.6 L677.8 347.1 L678.1 346.4 L678.4 342.1 L678.7 343.6 L679.0 351.7 L679.3 346.8 L679.5 346.4 L679.8 344.3 L680.1 347.7 L680.4 349.3 L680.7 348.6 L681.0 353.4 L681.3 347.2 L681.5 349.3 L681.8 345.5 L682.1 350.9 L682.4 348.8 L682.7 350.8 L683.0 351.2 L683.3 344.9 L683.6 349.1 L683.8 345.9 L684.1 351.5 L684.4 347.2 L684.7 353.7 L685.0 349.4 L685.3 349.5 L685.6 345.7 L685.8 347.2 L686.1 348.5 L686.4 344.9 L686.7 347.3 L687.0 346.1 L687.3 345.3 L687.6 348.3 L687.9 349.2 L688.1 347.0 L688.4 349.7 L688.7 346.9 L689.0 344.3 L689.3 345.3 L689.6 349.7 L689.9 353.0 L690.1 348.7 L690.4 348.9 L690.7 344.6 L691.0 349.9 L691.3 349.4 L691.6 346.1 L691.9 350.4 L692.2 349.3 L692.4 342.7 L692.7 343.5 L693.0 346.6 L693.3 348.0 L693.6 352.4 L693.9 347.0 L694.2 348.8 L694.4 348.3 L694.7 351.0 L695.0 349.2 L695.3 349.9 L695.6 348.1 L695.9 344.2 L696.2 348.1 L696.5 355.3 L696.7 352.9 L697.0 355.1 L697.3 352.4 L697.6 347.6 L697.9 348.2 L698.2 351.8 L698.5 348.8 L698.7 352.4 L699.0 354.8 L699.3 354.8 L699.6 352.9 L699.9 344.9 L700.2 354.7 L700.5 345.6 L700.8 345.3 L701.0 350.8 L701.3 350.3 L701.6 352.4 L701.9 350.3 L702.2 347.9 L702.5 350.3 L702.8 346.8 L703.0 346.2 L703.3 349.2 L703.6 349.3 L703.9 350.8 L704.2 349.4 L704.5 354.6 L704.8 349.2 L705.0 350.0 L705.3 353.8 L705.6 343.2 L705.9 354.3 L706.2 354.0 L706.5 350.0 L706.8 357.9 L707.1 353.8 L707.3 356.5 L707.6 354.5 L707.9 351.6 L708.2 350.1 L708.5 347.3 L708.8 348.4 L709.1 347.1 L709.3 349.3 L709.6 353.1 L709.9 347.5 L710.2 353.2 L710.5 353.7 L710.8 346.2 L711.1 348.9 L711.4 350.9 L711.6 349.1 L711.9 348.7 L712.2 356.6 L712.5 352.2 L712.8 356.1 L713.1 351.5 L713.4 354.4 L713.6 347.2 L713.9 350.3 L714.2 355.0 L714.5 352.2 L714.8 356.5 L715.1 352.1 L715.4 350.4 L715.7 351.4 L715.9 359.2 L716.2 353.6 L716.5 350.7 L716.8 351.4 L717.1 348.5 L717.4 357.2 L717.7 350.8 L717.9 355.0 L718.2 352.1 L718.5 351.4 L718.8 350.4 L719.1 354.9 L719.4 352.3 L719.7 357.1 L720.0 358.0 L720.2 351.1 L720.5 353.3 L720.8 358.8 L721.1 356.2 L721.4 353.2 L721.7 347.8 L722.0 349.6 L722.2 350.5 L722.5 359.7 L722.8 353.8 L723.1 351.8 L723.4 352.1 L723.7 352.1 L724.0 354.4 L724.3 347.5 L724.5 348.5 L724.8 354.1 L725.1 357.2 L725.4 346.6 L725.7 355.8 L726.0 349.7 L726.3 347.2 L726.5 357.3 L726.8 353.0 L727.1 355.3 L727.4 352.3 L727.7 353.0 L728.0 347.4 L728.3 352.2 L728.5 354.3 L728.8 350.4 L729.1 355.3 L729.4 355.7 L729.7 346.6 L730.0 357.4 L730.3 356.3 L730.6 354.4 L730.8 358.4 L731.1 362.1 L731.4 351.0 L731.7 357.5 L732.0 356.7 L732.3 356.2 L732.6 358.3 L732.8 358.7 L733.1 354.4 L733.4 346.6 L733.7 352.5 L734.0 352.5 L734.3 360.4 L734.6 355.3 L734.9 359.4 L735.1 352.6 L735.4 356.1 L735.7 355.2 L736.0 355.7 L736.3 357.5 L736.6 360.8 L736.9 353.5 L737.1 360.4 L737.4 359.8 L737.7 356.7 L738.0 358.2 L738.3 354.8 L738.6 352.2 L738.9 355.0 L739.2 355.2 L739.4 355.8 L739.7 353.0 L740.0 362.5 L740.3 354.8 L740.6 359.4 L740.9 360.5 L741.2 356.2 L741.4 357.6 L741.7 354.2 L742.0 352.4 L742.3 364.5 L742.6 356.6 L742.9 349.6 L743.2 353.4 L743.5 351.5 L743.7 356.2 L744.0 361.6 L744.3 360.6 L744.6 354.2 L744.9 353.4 L745.2 359.3 L745.5 357.8 L745.7 355.9 L746.0 363.0 L746.3 358.2 L746.6 351.3 L746.9 349.4 L747.2 357.4 L747.5 350.7 L747.8 359.0 L748.0 360.0 L748.3 365.1 L748.6 353.9 L748.9 358.6 L749.2 349.2 L749.5 356.2 L749.8 356.8 L750.0 363.8 L750.3 352.3 L750.6 358.8 L750.9 358.2 L751.2 365.4 L751.5 354.5 L751.8 354.3 L752.0 359.9 L752.3 357.5 L752.6 356.5 L752.9 354.5 L753.2 357.6 L753.5 352.0 L753.8 358.9 L754.1 360.2 L754.3 359.7 L754.6 367.0 L754.9 361.0 L755.2 354.7 L755.5 357.4 L755.8 361.2 L756.1 357.1 L756.3 365.4 L756.6 359.4 L756.9 356.7 L757.2 356.1 L757.5 361.3 L757.8 355.4 L758.1 352.1 L758.4 360.2 L758.6 356.2 L758.9 364.2 L759.2 365.7 L759.5 356.7 L759.8 358.8 L760.1 358.2 L760.4 361.0 L760.6 360.1 L760.9 356.2 L761.2 353.1 L761.5 359.9 L761.8 364.9 L762.1 354.8 L762.4 357.2 L762.7 356.9 L762.9 358.7 L763.2 351.3 L763.5 359.2 L763.8 357.7 L764.1 366.0 L764.4 361.6 L764.7 362.0 L764.9 359.8 L765.2 358.5 L765.5 362.4 L765.8 353.8 L766.1 363.6 L766.4 361.5 L766.7 359.1 L767.0 364.4 L767.2 358.1 L767.5 357.9 L767.8 361.2 L768.1 353.6 L768.4 359.9 L768.7 359.3 L769.0 363.7 L769.2 366.2 L769.5 362.6 L769.8 361.6 L770.1 362.1 L770.4 357.9 L770.7 368.9 L771.0 364.6 L771.3 367.0 L771.5 356.1 L771.8 362.7 L772.1 362.6 L772.4 364.7 L772.7 357.8 L773.0 362.4 L773.3 360.2 L773.5 368.1 L773.8 357.0 L774.1 359.8 L774.4 359.3 L774.7 356.9 L775.0 361.9 L775.3 361.9 L775.5 358.9 L775.8 359.9 L776.1 362.3 L776.4 361.3 L776.7 363.3 L777.0 359.1 L777.3 358.4 L777.6 361.7 L777.8 355.2 L778.1 367.1 L778.4 362.6 L778.7 355.9 L779.0 363.4 L779.3 367.5 L779.6 357.2 L779.8 360.2 L780.1 366.2 L780.4 359.4 L780.7 365.7 L781.0 366.9 L781.3 362.8 L781.6 364.0 L781.9 366.2 L782.1 363.7 L782.4 365.9 L782.7 362.3 L783.0 362.6 L783.3 360.0 L783.6 364.2 L783.9 367.3 L784.1 367.3 L784.4 363.6 L784.7 357.5 L785.0 359.9 L785.3 365.1 L785.6 359.7 L785.9 367.0 L786.2 359.5 L786.4 364.4 L786.7 360.5 L787.0 361.0 L787.3 364.2 L787.6 362.1 L787.9 367.0 L788.2 363.6 L788.4 359.6 L788.7 349.3 L789.0 361.0 L789.3 363.2 L789.6 367.1 L789.9 360.0 L790.2 369.4 L790.5 366.5 L790.7 362.5 L791.0 367.9 L791.3 358.5 L791.6 360.1 L791.9 365.9 L792.2 365.9 L792.5 368.6 L792.7 368.9 L793.0 362.6 L793.3 362.0 L793.6 363.0 L793.9 363.3 L794.2 366.2 L794.5 363.1 L794.8 369.4 L795.0 364.4 L795.3 359.4 L795.6 359.9 L795.9 366.1 L796.2 365.7 L796.5 359.9 L796.8 358.5 L797.0 369.9 L797.3 366.2 L797.6 364.0 L797.9 360.7 L798.2 367.8 L798.5 362.7 L798.8 366.0 L799.0 356.9 L799.3 363.6 L799.6 365.6 L799.9 366.3 L800.2 361.6 L800.5 362.9 L800.8 369.0 L801.1 364.6 L801.3 370.0 L801.6 368.0 L801.9 369.9 L802.2 370.1 L802.5 367.9 L802.8 369.0 L803.1 363.8 L803.3 363.0 L803.6 366.6 L803.9 369.6 L804.2 363.1 L804.5 372.8 L804.8 372.6 L805.1 363.5 L805.4 363.8 L805.6 362.7 L805.9 366.8 L806.2 370.5 L806.5 367.9 L806.8 364.3 L807.1 368.9 L807.4 368.7 L807.6 371.2 L807.9 370.4 L808.2 363.6 L808.5 364.9 L808.8 370.5 L809.1 370.3 L809.4 368.6 L809.7 364.8 L809.9 370.7 L810.2 367.3 L810.5 374.2 L810.8 371.2 L811.1 365.5 L811.4 363.9 L811.7 370.9 L811.9 369.7 L812.2 364.3 L812.5 368.5 L812.8 369.0 L813.1 365.4 L813.4 366.6 L813.7 363.5 L814.0 364.6 L814.2 369.4 L814.5 367.8 L814.8 367.7 L815.1 372.2 L815.4 370.9 L815.7 364.3 L816.0 373.1 L816.2 364.3 L816.5 366.8 L816.8 368.2 L817.1 366.0 L817.4 366.2 L817.7 363.8 L818.0 369.3 L818.3 368.8 L818.5 368.9 L818.8 361.6 L819.1 364.9 L819.4 371.3 L819.7 369.3 L820.0 370.7 L820.3 368.2 L820.5 367.6 L820.8 360.6 L821.1 374.7 L821.4 365.0 L821.7 367.0 L822.0 370.9 L822.3 369.1 L822.5 370.3 L822.8 368.5 L823.1 365.3 L823.4 373.9 L823.7 364.3 L824.0 370.1 L824.3 363.8 L824.6 367.5 L824.8 364.8 L825.1 367.1 L825.4 365.4 L825.7 368.9 L826.0 372.0 L826.3 366.9 L826.6 366.8 L826.8 362.1 L827.1 376.1 L827.4 370.0 L827.7 365.8 L828.0 373.7 L828.3 370.3 L828.6 362.3 L828.9 364.8 L829.1 372.6 L829.4 364.8 L829.7 365.7 L830.0 367.1"/>
</g>
<g stroke-width="3.6" stroke-linecap="round"><line x1="533" y1="40" x2="594.5" y2="40" stroke="#000"/><line x1="533" y1="74.3" x2="594.5" y2="74.3" stroke="#f00"/></g>
<text x="601.5" y="49.6">As-deposited</text>
<text x="601.5" y="83.4">Solvent-annealed</text>
<text x="123.8" y="571.2" text-anchor="end">0</text>
<text x="123.8" y="481.7" text-anchor="end">2000</text>
<text x="123.8" y="392.2" text-anchor="end">4000</text>
<text x="123.8" y="302.7" text-anchor="end">6000</text>
<text x="123.8" y="213.1" text-anchor="end">8000</text>
<text x="123.8" y="123.6" text-anchor="end">10000</text>
<text x="123.8" y="34.1" text-anchor="end">12000</text>
<text x="142.2" y="601.7" text-anchor="middle">0</text>
<text x="256.8" y="601.7" text-anchor="middle">10</text>
<text x="371.5" y="601.7" text-anchor="middle">20</text>
<text x="486.1" y="601.7" text-anchor="middle">30</text>
<text x="600.7" y="601.7" text-anchor="middle">40</text>
<text x="715.4" y="601.7" text-anchor="middle">50</text>
<text x="830.0" y="601.7" text-anchor="middle">60</text>
<text x="486.4" y="648.1" text-anchor="middle">Time(ns)</text>
<text transform="translate(20.7 302) rotate(-90)" text-anchor="middle">Normalized PL Intensity</text>
</svg></body></html>
